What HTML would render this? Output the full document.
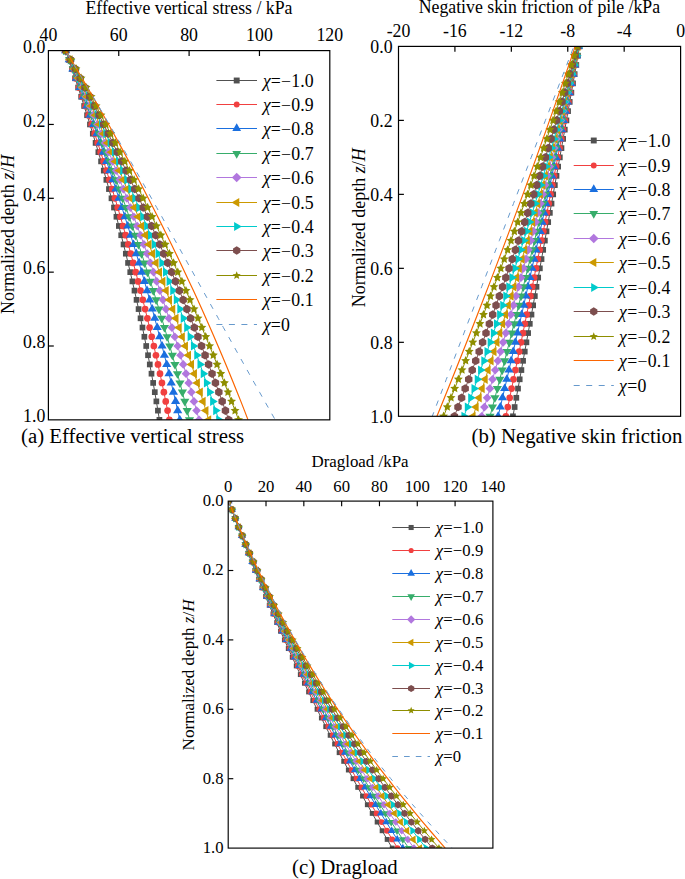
<!DOCTYPE html>
<html><head><meta charset="utf-8"><style>
html,body{margin:0;padding:0;background:#fff;width:685px;height:879px;overflow:hidden}
svg{display:block}
text{font-family:"Liberation Serif", serif;fill:#000}
</style></head><body>
<svg width="685" height="879" viewBox="0 0 685 879">
<clipPath id="ca"><rect x="48.4" y="50.6" width="281.40000000000003" height="369.25"/></clipPath>
<g clip-path="url(#ca)">
<path d="M65.64,50.6 L68.83,59.83 L71.98,69.06 L75.08,78.29 L78.14,87.53 L81.16,96.76 L84.13,105.99 L87.07,115.22 L89.95,124.45 L92.8,133.68 L95.6,142.91 L98.36,152.14 L101.07,161.38 L103.74,170.61 L106.37,179.84 L108.95,189.07 L111.49,198.3 L113.99,207.53 L116.44,216.76 L118.85,225.99 L121.21,235.22 L123.54,244.46 L125.82,253.69 L128.05,262.92 L130.24,272.15 L132.39,281.38 L134.5,290.61 L136.56,299.84 L138.58,309.08 L140.55,318.31 L142.49,327.54 L144.37,336.77 L146.22,346 L148.02,355.23 L149.78,364.46 L151.49,373.69 L153.16,382.93 L154.79,392.16 L156.37,401.39 L157.91,410.62 L159.41,419.85" fill="none" stroke="#515151" stroke-width="1.0"/>
<rect x="62.79" y="47.75" width="5.7" height="5.7" fill="#515151"/>
<rect x="65.98" y="56.98" width="5.7" height="5.7" fill="#515151"/>
<rect x="69.13" y="66.21" width="5.7" height="5.7" fill="#515151"/>
<rect x="72.23" y="75.44" width="5.7" height="5.7" fill="#515151"/>
<rect x="75.29" y="84.68" width="5.7" height="5.7" fill="#515151"/>
<rect x="78.31" y="93.91" width="5.7" height="5.7" fill="#515151"/>
<rect x="81.28" y="103.14" width="5.7" height="5.7" fill="#515151"/>
<rect x="84.22" y="112.37" width="5.7" height="5.7" fill="#515151"/>
<rect x="87.1" y="121.6" width="5.7" height="5.7" fill="#515151"/>
<rect x="89.95" y="130.83" width="5.7" height="5.7" fill="#515151"/>
<rect x="92.75" y="140.06" width="5.7" height="5.7" fill="#515151"/>
<rect x="95.51" y="149.29" width="5.7" height="5.7" fill="#515151"/>
<rect x="98.22" y="158.53" width="5.7" height="5.7" fill="#515151"/>
<rect x="100.89" y="167.76" width="5.7" height="5.7" fill="#515151"/>
<rect x="103.52" y="176.99" width="5.7" height="5.7" fill="#515151"/>
<rect x="106.1" y="186.22" width="5.7" height="5.7" fill="#515151"/>
<rect x="108.64" y="195.45" width="5.7" height="5.7" fill="#515151"/>
<rect x="111.14" y="204.68" width="5.7" height="5.7" fill="#515151"/>
<rect x="113.59" y="213.91" width="5.7" height="5.7" fill="#515151"/>
<rect x="116" y="223.14" width="5.7" height="5.7" fill="#515151"/>
<rect x="118.36" y="232.38" width="5.7" height="5.7" fill="#515151"/>
<rect x="120.69" y="241.61" width="5.7" height="5.7" fill="#515151"/>
<rect x="122.97" y="250.84" width="5.7" height="5.7" fill="#515151"/>
<rect x="125.2" y="260.07" width="5.7" height="5.7" fill="#515151"/>
<rect x="127.39" y="269.3" width="5.7" height="5.7" fill="#515151"/>
<rect x="129.54" y="278.53" width="5.7" height="5.7" fill="#515151"/>
<rect x="131.65" y="287.76" width="5.7" height="5.7" fill="#515151"/>
<rect x="133.71" y="296.99" width="5.7" height="5.7" fill="#515151"/>
<rect x="135.73" y="306.23" width="5.7" height="5.7" fill="#515151"/>
<rect x="137.7" y="315.46" width="5.7" height="5.7" fill="#515151"/>
<rect x="139.64" y="324.69" width="5.7" height="5.7" fill="#515151"/>
<rect x="141.52" y="333.92" width="5.7" height="5.7" fill="#515151"/>
<rect x="143.37" y="343.15" width="5.7" height="5.7" fill="#515151"/>
<rect x="145.17" y="352.38" width="5.7" height="5.7" fill="#515151"/>
<rect x="146.93" y="361.61" width="5.7" height="5.7" fill="#515151"/>
<rect x="148.64" y="370.84" width="5.7" height="5.7" fill="#515151"/>
<rect x="150.31" y="380.07" width="5.7" height="5.7" fill="#515151"/>
<rect x="151.94" y="389.31" width="5.7" height="5.7" fill="#515151"/>
<rect x="153.52" y="398.54" width="5.7" height="5.7" fill="#515151"/>
<rect x="155.06" y="407.77" width="5.7" height="5.7" fill="#515151"/>
<rect x="156.56" y="417" width="5.7" height="5.7" fill="#515151"/>
<path d="M65.64,50.6 L69.03,59.83 L72.37,69.06 L75.68,78.29 L78.95,87.53 L82.18,96.76 L85.36,105.99 L88.51,115.22 L91.61,124.45 L94.67,133.68 L97.7,142.91 L100.68,152.14 L103.62,161.38 L106.52,170.61 L109.38,179.84 L112.2,189.07 L114.97,198.3 L117.71,207.53 L120.41,216.76 L123.06,225.99 L125.67,235.22 L128.25,244.46 L130.78,253.69 L133.27,262.92 L135.72,272.15 L138.13,281.38 L140.5,290.61 L142.83,299.84 L145.11,309.08 L147.36,318.31 L149.57,327.54 L151.73,336.77 L153.85,346 L155.94,355.23 L157.98,364.46 L159.98,373.69 L161.94,382.93 L163.86,392.16 L165.74,401.39 L167.58,410.62 L169.37,419.85" fill="none" stroke="#F14040" stroke-width="1.0"/>
<circle cx="65.64" cy="50.6" r="3.35" fill="#F14040"/>
<circle cx="69.03" cy="59.83" r="3.35" fill="#F14040"/>
<circle cx="72.37" cy="69.06" r="3.35" fill="#F14040"/>
<circle cx="75.68" cy="78.29" r="3.35" fill="#F14040"/>
<circle cx="78.95" cy="87.53" r="3.35" fill="#F14040"/>
<circle cx="82.18" cy="96.76" r="3.35" fill="#F14040"/>
<circle cx="85.36" cy="105.99" r="3.35" fill="#F14040"/>
<circle cx="88.51" cy="115.22" r="3.35" fill="#F14040"/>
<circle cx="91.61" cy="124.45" r="3.35" fill="#F14040"/>
<circle cx="94.67" cy="133.68" r="3.35" fill="#F14040"/>
<circle cx="97.7" cy="142.91" r="3.35" fill="#F14040"/>
<circle cx="100.68" cy="152.14" r="3.35" fill="#F14040"/>
<circle cx="103.62" cy="161.38" r="3.35" fill="#F14040"/>
<circle cx="106.52" cy="170.61" r="3.35" fill="#F14040"/>
<circle cx="109.38" cy="179.84" r="3.35" fill="#F14040"/>
<circle cx="112.2" cy="189.07" r="3.35" fill="#F14040"/>
<circle cx="114.97" cy="198.3" r="3.35" fill="#F14040"/>
<circle cx="117.71" cy="207.53" r="3.35" fill="#F14040"/>
<circle cx="120.41" cy="216.76" r="3.35" fill="#F14040"/>
<circle cx="123.06" cy="225.99" r="3.35" fill="#F14040"/>
<circle cx="125.67" cy="235.22" r="3.35" fill="#F14040"/>
<circle cx="128.25" cy="244.46" r="3.35" fill="#F14040"/>
<circle cx="130.78" cy="253.69" r="3.35" fill="#F14040"/>
<circle cx="133.27" cy="262.92" r="3.35" fill="#F14040"/>
<circle cx="135.72" cy="272.15" r="3.35" fill="#F14040"/>
<circle cx="138.13" cy="281.38" r="3.35" fill="#F14040"/>
<circle cx="140.5" cy="290.61" r="3.35" fill="#F14040"/>
<circle cx="142.83" cy="299.84" r="3.35" fill="#F14040"/>
<circle cx="145.11" cy="309.08" r="3.35" fill="#F14040"/>
<circle cx="147.36" cy="318.31" r="3.35" fill="#F14040"/>
<circle cx="149.57" cy="327.54" r="3.35" fill="#F14040"/>
<circle cx="151.73" cy="336.77" r="3.35" fill="#F14040"/>
<circle cx="153.85" cy="346" r="3.35" fill="#F14040"/>
<circle cx="155.94" cy="355.23" r="3.35" fill="#F14040"/>
<circle cx="157.98" cy="364.46" r="3.35" fill="#F14040"/>
<circle cx="159.98" cy="373.69" r="3.35" fill="#F14040"/>
<circle cx="161.94" cy="382.93" r="3.35" fill="#F14040"/>
<circle cx="163.86" cy="392.16" r="3.35" fill="#F14040"/>
<circle cx="165.74" cy="401.39" r="3.35" fill="#F14040"/>
<circle cx="167.58" cy="410.62" r="3.35" fill="#F14040"/>
<circle cx="169.37" cy="419.85" r="3.35" fill="#F14040"/>
<path d="M65.64,50.6 L69.27,59.83 L72.86,69.06 L76.41,78.29 L79.92,87.53 L83.39,96.76 L86.82,105.99 L90.21,115.22 L93.56,124.45 L96.87,133.68 L100.15,142.91 L103.38,152.14 L106.57,161.38 L109.72,170.61 L112.83,179.84 L115.91,189.07 L118.94,198.3 L121.93,207.53 L124.89,216.76 L127.8,225.99 L130.67,235.22 L133.51,244.46 L136.3,253.69 L139.05,262.92 L141.77,272.15 L144.44,281.38 L147.08,290.61 L149.67,299.84 L152.23,309.08 L154.74,318.31 L157.22,327.54 L159.65,336.77 L162.05,346 L164.4,355.23 L166.72,364.46 L169,373.69 L171.23,382.93 L173.43,392.16 L175.59,401.39 L177.7,410.62 L179.78,419.85" fill="none" stroke="#1A6FDF" stroke-width="1.0"/>
<polygon points="65.64,45.53 70.24,53.13 61.04,53.13" fill="#1A6FDF"/>
<polygon points="69.27,54.76 73.87,62.36 64.67,62.36" fill="#1A6FDF"/>
<polygon points="72.86,64 77.46,71.6 68.26,71.6" fill="#1A6FDF"/>
<polygon points="76.41,73.23 81.01,80.83 71.81,80.83" fill="#1A6FDF"/>
<polygon points="79.92,82.46 84.52,90.06 75.32,90.06" fill="#1A6FDF"/>
<polygon points="83.39,91.69 87.99,99.29 78.79,99.29" fill="#1A6FDF"/>
<polygon points="86.82,100.92 91.42,108.52 82.22,108.52" fill="#1A6FDF"/>
<polygon points="90.21,110.15 94.81,117.75 85.61,117.75" fill="#1A6FDF"/>
<polygon points="93.56,119.38 98.16,126.98 88.96,126.98" fill="#1A6FDF"/>
<polygon points="96.87,128.61 101.47,136.21 92.27,136.21" fill="#1A6FDF"/>
<polygon points="100.15,137.85 104.75,145.45 95.55,145.45" fill="#1A6FDF"/>
<polygon points="103.38,147.08 107.98,154.68 98.78,154.68" fill="#1A6FDF"/>
<polygon points="106.57,156.31 111.17,163.91 101.97,163.91" fill="#1A6FDF"/>
<polygon points="109.72,165.54 114.32,173.14 105.12,173.14" fill="#1A6FDF"/>
<polygon points="112.83,174.77 117.43,182.37 108.23,182.37" fill="#1A6FDF"/>
<polygon points="115.91,184 120.51,191.6 111.31,191.6" fill="#1A6FDF"/>
<polygon points="118.94,193.23 123.54,200.83 114.34,200.83" fill="#1A6FDF"/>
<polygon points="121.93,202.46 126.53,210.06 117.33,210.06" fill="#1A6FDF"/>
<polygon points="124.89,211.7 129.49,219.3 120.29,219.3" fill="#1A6FDF"/>
<polygon points="127.8,220.93 132.4,228.53 123.2,228.53" fill="#1A6FDF"/>
<polygon points="130.67,230.16 135.27,237.76 126.07,237.76" fill="#1A6FDF"/>
<polygon points="133.51,239.39 138.11,246.99 128.91,246.99" fill="#1A6FDF"/>
<polygon points="136.3,248.62 140.9,256.22 131.7,256.22" fill="#1A6FDF"/>
<polygon points="139.05,257.85 143.65,265.45 134.45,265.45" fill="#1A6FDF"/>
<polygon points="141.77,267.08 146.37,274.68 137.17,274.68" fill="#1A6FDF"/>
<polygon points="144.44,276.31 149.04,283.91 139.84,283.91" fill="#1A6FDF"/>
<polygon points="147.08,285.55 151.68,293.15 142.48,293.15" fill="#1A6FDF"/>
<polygon points="149.67,294.78 154.27,302.38 145.07,302.38" fill="#1A6FDF"/>
<polygon points="152.23,304.01 156.83,311.61 147.63,311.61" fill="#1A6FDF"/>
<polygon points="154.74,313.24 159.34,320.84 150.14,320.84" fill="#1A6FDF"/>
<polygon points="157.22,322.47 161.82,330.07 152.62,330.07" fill="#1A6FDF"/>
<polygon points="159.65,331.7 164.25,339.3 155.05,339.3" fill="#1A6FDF"/>
<polygon points="162.05,340.93 166.65,348.53 157.45,348.53" fill="#1A6FDF"/>
<polygon points="164.4,350.16 169,357.76 159.8,357.76" fill="#1A6FDF"/>
<polygon points="166.72,359.4 171.32,367 162.12,367" fill="#1A6FDF"/>
<polygon points="169,368.63 173.6,376.23 164.4,376.23" fill="#1A6FDF"/>
<polygon points="171.23,377.86 175.83,385.46 166.63,385.46" fill="#1A6FDF"/>
<polygon points="173.43,387.09 178.03,394.69 168.83,394.69" fill="#1A6FDF"/>
<polygon points="175.59,396.32 180.19,403.92 170.99,403.92" fill="#1A6FDF"/>
<polygon points="177.7,405.55 182.3,413.15 173.1,413.15" fill="#1A6FDF"/>
<polygon points="179.78,414.78 184.38,422.38 175.18,422.38" fill="#1A6FDF"/>
<path d="M65.64,50.6 L69.5,59.83 L73.33,69.06 L77.11,78.29 L80.86,87.53 L84.56,96.76 L88.23,105.99 L91.86,115.22 L95.45,124.45 L99,133.68 L102.51,142.91 L105.98,152.14 L109.41,161.38 L112.8,170.61 L116.15,179.84 L119.47,189.07 L122.74,198.3 L125.98,207.53 L129.17,216.76 L132.33,225.99 L135.44,235.22 L138.52,244.46 L141.56,253.69 L144.56,262.92 L147.51,272.15 L150.43,281.38 L153.31,290.61 L156.16,299.84 L158.96,309.08 L161.72,318.31 L164.44,327.54 L167.12,336.77 L169.77,346 L172.37,355.23 L174.94,364.46 L177.46,373.69 L179.95,382.93 L182.4,392.16 L184.8,401.39 L187.17,410.62 L189.5,419.85" fill="none" stroke="#37AD6B" stroke-width="1.0"/>
<polygon points="65.64,55.67 70.24,48.07 61.04,48.07" fill="#37AD6B"/>
<polygon points="69.5,64.9 74.1,57.3 64.9,57.3" fill="#37AD6B"/>
<polygon points="73.33,74.13 77.93,66.53 68.73,66.53" fill="#37AD6B"/>
<polygon points="77.11,83.36 81.71,75.76 72.51,75.76" fill="#37AD6B"/>
<polygon points="80.86,92.59 85.46,84.99 76.26,84.99" fill="#37AD6B"/>
<polygon points="84.56,101.82 89.16,94.22 79.96,94.22" fill="#37AD6B"/>
<polygon points="88.23,111.05 92.83,103.45 83.63,103.45" fill="#37AD6B"/>
<polygon points="91.86,120.29 96.46,112.69 87.26,112.69" fill="#37AD6B"/>
<polygon points="95.45,129.52 100.05,121.92 90.85,121.92" fill="#37AD6B"/>
<polygon points="99,138.75 103.6,131.15 94.4,131.15" fill="#37AD6B"/>
<polygon points="102.51,147.98 107.11,140.38 97.91,140.38" fill="#37AD6B"/>
<polygon points="105.98,157.21 110.58,149.61 101.38,149.61" fill="#37AD6B"/>
<polygon points="109.41,166.44 114.01,158.84 104.81,158.84" fill="#37AD6B"/>
<polygon points="112.8,175.67 117.4,168.07 108.2,168.07" fill="#37AD6B"/>
<polygon points="116.15,184.9 120.75,177.3 111.55,177.3" fill="#37AD6B"/>
<polygon points="119.47,194.14 124.07,186.54 114.87,186.54" fill="#37AD6B"/>
<polygon points="122.74,203.37 127.34,195.77 118.14,195.77" fill="#37AD6B"/>
<polygon points="125.98,212.6 130.58,205 121.38,205" fill="#37AD6B"/>
<polygon points="129.17,221.83 133.77,214.23 124.57,214.23" fill="#37AD6B"/>
<polygon points="132.33,231.06 136.93,223.46 127.73,223.46" fill="#37AD6B"/>
<polygon points="135.44,240.29 140.04,232.69 130.84,232.69" fill="#37AD6B"/>
<polygon points="138.52,249.52 143.12,241.92 133.92,241.92" fill="#37AD6B"/>
<polygon points="141.56,258.75 146.16,251.15 136.96,251.15" fill="#37AD6B"/>
<polygon points="144.56,267.99 149.16,260.39 139.96,260.39" fill="#37AD6B"/>
<polygon points="147.51,277.22 152.11,269.62 142.91,269.62" fill="#37AD6B"/>
<polygon points="150.43,286.45 155.03,278.85 145.83,278.85" fill="#37AD6B"/>
<polygon points="153.31,295.68 157.91,288.08 148.71,288.08" fill="#37AD6B"/>
<polygon points="156.16,304.91 160.76,297.31 151.56,297.31" fill="#37AD6B"/>
<polygon points="158.96,314.14 163.56,306.54 154.36,306.54" fill="#37AD6B"/>
<polygon points="161.72,323.37 166.32,315.77 157.12,315.77" fill="#37AD6B"/>
<polygon points="164.44,332.6 169.04,325 159.84,325" fill="#37AD6B"/>
<polygon points="167.12,341.84 171.72,334.24 162.52,334.24" fill="#37AD6B"/>
<polygon points="169.77,351.07 174.37,343.47 165.17,343.47" fill="#37AD6B"/>
<polygon points="172.37,360.3 176.97,352.7 167.77,352.7" fill="#37AD6B"/>
<polygon points="174.94,369.53 179.54,361.93 170.34,361.93" fill="#37AD6B"/>
<polygon points="177.46,378.76 182.06,371.16 172.86,371.16" fill="#37AD6B"/>
<polygon points="179.95,387.99 184.55,380.39 175.35,380.39" fill="#37AD6B"/>
<polygon points="182.4,397.22 187,389.62 177.8,389.62" fill="#37AD6B"/>
<polygon points="184.8,406.45 189.4,398.85 180.2,398.85" fill="#37AD6B"/>
<polygon points="187.17,415.69 191.77,408.09 182.57,408.09" fill="#37AD6B"/>
<polygon points="189.5,424.92 194.1,417.32 184.9,417.32" fill="#37AD6B"/>
<path d="M65.64,50.6 L69.77,59.83 L73.87,69.06 L77.93,78.29 L81.94,87.53 L85.92,96.76 L89.85,105.99 L93.74,115.22 L97.59,124.45 L101.4,133.68 L105.17,142.91 L108.89,152.14 L112.58,161.38 L116.22,170.61 L119.83,179.84 L123.39,189.07 L126.91,198.3 L130.39,207.53 L133.83,216.76 L137.23,225.99 L140.59,235.22 L143.9,244.46 L147.18,253.69 L150.41,262.92 L153.61,272.15 L156.76,281.38 L159.87,290.61 L162.94,299.84 L165.97,309.08 L168.95,318.31 L171.9,327.54 L174.81,336.77 L177.67,346 L180.49,355.23 L183.27,364.46 L186.01,373.69 L188.71,382.93 L191.37,392.16 L193.99,401.39 L196.57,410.62 L199.1,419.85" fill="none" stroke="#B177DE" stroke-width="1.0"/>
<polygon points="65.64,46.25 69.99,50.6 65.64,54.95 61.29,50.6" fill="#B177DE"/>
<polygon points="69.77,55.48 74.12,59.83 69.77,64.18 65.42,59.83" fill="#B177DE"/>
<polygon points="73.87,64.71 78.22,69.06 73.87,73.41 69.52,69.06" fill="#B177DE"/>
<polygon points="77.93,73.94 82.28,78.29 77.93,82.64 73.58,78.29" fill="#B177DE"/>
<polygon points="81.94,83.18 86.29,87.53 81.94,91.88 77.59,87.53" fill="#B177DE"/>
<polygon points="85.92,92.41 90.27,96.76 85.92,101.11 81.57,96.76" fill="#B177DE"/>
<polygon points="89.85,101.64 94.2,105.99 89.85,110.34 85.5,105.99" fill="#B177DE"/>
<polygon points="93.74,110.87 98.09,115.22 93.74,119.57 89.39,115.22" fill="#B177DE"/>
<polygon points="97.59,120.1 101.94,124.45 97.59,128.8 93.24,124.45" fill="#B177DE"/>
<polygon points="101.4,129.33 105.75,133.68 101.4,138.03 97.05,133.68" fill="#B177DE"/>
<polygon points="105.17,138.56 109.52,142.91 105.17,147.26 100.82,142.91" fill="#B177DE"/>
<polygon points="108.89,147.79 113.24,152.14 108.89,156.49 104.54,152.14" fill="#B177DE"/>
<polygon points="112.58,157.03 116.93,161.38 112.58,165.73 108.23,161.38" fill="#B177DE"/>
<polygon points="116.22,166.26 120.57,170.61 116.22,174.96 111.87,170.61" fill="#B177DE"/>
<polygon points="119.83,175.49 124.18,179.84 119.83,184.19 115.48,179.84" fill="#B177DE"/>
<polygon points="123.39,184.72 127.74,189.07 123.39,193.42 119.04,189.07" fill="#B177DE"/>
<polygon points="126.91,193.95 131.26,198.3 126.91,202.65 122.56,198.3" fill="#B177DE"/>
<polygon points="130.39,203.18 134.74,207.53 130.39,211.88 126.04,207.53" fill="#B177DE"/>
<polygon points="133.83,212.41 138.18,216.76 133.83,221.11 129.48,216.76" fill="#B177DE"/>
<polygon points="137.23,221.64 141.58,225.99 137.23,230.34 132.88,225.99" fill="#B177DE"/>
<polygon points="140.59,230.88 144.94,235.22 140.59,239.57 136.24,235.22" fill="#B177DE"/>
<polygon points="143.9,240.11 148.25,244.46 143.9,248.81 139.55,244.46" fill="#B177DE"/>
<polygon points="147.18,249.34 151.53,253.69 147.18,258.04 142.83,253.69" fill="#B177DE"/>
<polygon points="150.41,258.57 154.76,262.92 150.41,267.27 146.06,262.92" fill="#B177DE"/>
<polygon points="153.61,267.8 157.96,272.15 153.61,276.5 149.26,272.15" fill="#B177DE"/>
<polygon points="156.76,277.03 161.11,281.38 156.76,285.73 152.41,281.38" fill="#B177DE"/>
<polygon points="159.87,286.26 164.22,290.61 159.87,294.96 155.52,290.61" fill="#B177DE"/>
<polygon points="162.94,295.49 167.29,299.84 162.94,304.19 158.59,299.84" fill="#B177DE"/>
<polygon points="165.97,304.73 170.32,309.08 165.97,313.43 161.62,309.08" fill="#B177DE"/>
<polygon points="168.95,313.96 173.3,318.31 168.95,322.66 164.6,318.31" fill="#B177DE"/>
<polygon points="171.9,323.19 176.25,327.54 171.9,331.89 167.55,327.54" fill="#B177DE"/>
<polygon points="174.81,332.42 179.16,336.77 174.81,341.12 170.46,336.77" fill="#B177DE"/>
<polygon points="177.67,341.65 182.02,346 177.67,350.35 173.32,346" fill="#B177DE"/>
<polygon points="180.49,350.88 184.84,355.23 180.49,359.58 176.14,355.23" fill="#B177DE"/>
<polygon points="183.27,360.11 187.62,364.46 183.27,368.81 178.92,364.46" fill="#B177DE"/>
<polygon points="186.01,369.34 190.36,373.69 186.01,378.04 181.66,373.69" fill="#B177DE"/>
<polygon points="188.71,378.57 193.06,382.93 188.71,387.28 184.36,382.93" fill="#B177DE"/>
<polygon points="191.37,387.81 195.72,392.16 191.37,396.51 187.02,392.16" fill="#B177DE"/>
<polygon points="193.99,397.04 198.34,401.39 193.99,405.74 189.64,401.39" fill="#B177DE"/>
<polygon points="196.57,406.27 200.92,410.62 196.57,414.97 192.22,410.62" fill="#B177DE"/>
<polygon points="199.1,415.5 203.45,419.85 199.1,424.2 194.75,419.85" fill="#B177DE"/>
<path d="M65.64,50.6 L70.02,59.83 L74.37,69.06 L78.67,78.29 L82.93,87.53 L87.15,96.76 L91.33,105.99 L95.46,115.22 L99.56,124.45 L103.61,133.68 L107.63,142.91 L111.6,152.14 L115.53,161.38 L119.41,170.61 L123.26,179.84 L127.06,189.07 L130.83,198.3 L134.55,207.53 L138.23,216.76 L141.87,225.99 L145.46,235.22 L149.02,244.46 L152.53,253.69 L156,262.92 L159.43,272.15 L162.82,281.38 L166.17,290.61 L169.48,299.84 L172.74,309.08 L175.97,318.31 L179.15,327.54 L182.29,336.77 L185.39,346 L188.44,355.23 L191.46,364.46 L194.43,373.69 L197.36,382.93 L200.25,392.16 L203.1,401.39 L205.91,410.62 L208.68,419.85" fill="none" stroke="#CC9900" stroke-width="1.0"/>
<polygon points="60.57,50.6 68.17,46 68.17,55.2" fill="#CC9900"/>
<polygon points="64.95,59.83 72.55,55.23 72.55,64.43" fill="#CC9900"/>
<polygon points="69.3,69.06 76.9,64.46 76.9,73.66" fill="#CC9900"/>
<polygon points="73.6,78.29 81.2,73.69 81.2,82.89" fill="#CC9900"/>
<polygon points="77.86,87.53 85.46,82.93 85.46,92.12" fill="#CC9900"/>
<polygon points="82.08,96.76 89.68,92.16 89.68,101.36" fill="#CC9900"/>
<polygon points="86.26,105.99 93.86,101.39 93.86,110.59" fill="#CC9900"/>
<polygon points="90.4,115.22 98,110.62 98,119.82" fill="#CC9900"/>
<polygon points="94.49,124.45 102.09,119.85 102.09,129.05" fill="#CC9900"/>
<polygon points="98.55,133.68 106.15,129.08 106.15,138.28" fill="#CC9900"/>
<polygon points="102.56,142.91 110.16,138.31 110.16,147.51" fill="#CC9900"/>
<polygon points="106.53,152.14 114.13,147.54 114.13,156.74" fill="#CC9900"/>
<polygon points="110.46,161.38 118.06,156.78 118.06,165.98" fill="#CC9900"/>
<polygon points="114.35,170.61 121.95,166.01 121.95,175.21" fill="#CC9900"/>
<polygon points="118.19,179.84 125.79,175.24 125.79,184.44" fill="#CC9900"/>
<polygon points="122,189.07 129.6,184.47 129.6,193.67" fill="#CC9900"/>
<polygon points="125.76,198.3 133.36,193.7 133.36,202.9" fill="#CC9900"/>
<polygon points="129.48,207.53 137.08,202.93 137.08,212.13" fill="#CC9900"/>
<polygon points="133.16,216.76 140.76,212.16 140.76,221.36" fill="#CC9900"/>
<polygon points="136.8,225.99 144.4,221.39 144.4,230.59" fill="#CC9900"/>
<polygon points="140.4,235.22 148,230.62 148,239.82" fill="#CC9900"/>
<polygon points="143.95,244.46 151.55,239.86 151.55,249.06" fill="#CC9900"/>
<polygon points="147.46,253.69 155.06,249.09 155.06,258.29" fill="#CC9900"/>
<polygon points="150.94,262.92 158.54,258.32 158.54,267.52" fill="#CC9900"/>
<polygon points="154.37,272.15 161.97,267.55 161.97,276.75" fill="#CC9900"/>
<polygon points="157.76,281.38 165.36,276.78 165.36,285.98" fill="#CC9900"/>
<polygon points="161.1,290.61 168.7,286.01 168.7,295.21" fill="#CC9900"/>
<polygon points="164.41,299.84 172.01,295.24 172.01,304.44" fill="#CC9900"/>
<polygon points="167.68,309.08 175.28,304.48 175.28,313.68" fill="#CC9900"/>
<polygon points="170.9,318.31 178.5,313.71 178.5,322.91" fill="#CC9900"/>
<polygon points="174.08,327.54 181.68,322.94 181.68,332.14" fill="#CC9900"/>
<polygon points="177.22,336.77 184.82,332.17 184.82,341.37" fill="#CC9900"/>
<polygon points="180.32,346 187.92,341.4 187.92,350.6" fill="#CC9900"/>
<polygon points="183.38,355.23 190.98,350.63 190.98,359.83" fill="#CC9900"/>
<polygon points="186.39,364.46 193.99,359.86 193.99,369.06" fill="#CC9900"/>
<polygon points="189.36,373.69 196.96,369.09 196.96,378.29" fill="#CC9900"/>
<polygon points="192.3,382.93 199.9,378.32 199.9,387.53" fill="#CC9900"/>
<polygon points="195.19,392.16 202.79,387.56 202.79,396.76" fill="#CC9900"/>
<polygon points="198.04,401.39 205.64,396.79 205.64,405.99" fill="#CC9900"/>
<polygon points="200.84,410.62 208.44,406.02 208.44,415.22" fill="#CC9900"/>
<polygon points="203.61,419.85 211.21,415.25 211.21,424.45" fill="#CC9900"/>
<path d="M65.64,50.6 L70.28,59.83 L74.88,69.06 L79.44,78.29 L83.96,87.53 L88.43,96.76 L92.87,105.99 L97.26,115.22 L101.61,124.45 L105.92,133.68 L110.19,142.91 L114.41,152.14 L118.59,161.38 L122.74,170.61 L126.83,179.84 L130.89,189.07 L134.91,198.3 L138.88,207.53 L142.81,216.76 L146.71,225.99 L150.55,235.22 L154.36,244.46 L158.13,253.69 L161.85,262.92 L165.53,272.15 L169.17,281.38 L172.77,290.61 L176.32,299.84 L179.84,309.08 L183.31,318.31 L186.74,327.54 L190.13,336.77 L193.48,346 L196.78,355.23 L200.05,364.46 L203.27,373.69 L206.45,382.93 L209.58,392.16 L212.68,401.39 L215.73,410.62 L218.75,419.85" fill="none" stroke="#00CBCC" stroke-width="1.0"/>
<polygon points="70.7,50.6 63.1,46 63.1,55.2" fill="#00CBCC"/>
<polygon points="75.35,59.83 67.75,55.23 67.75,64.43" fill="#00CBCC"/>
<polygon points="79.95,69.06 72.35,64.46 72.35,73.66" fill="#00CBCC"/>
<polygon points="84.51,78.29 76.91,73.69 76.91,82.89" fill="#00CBCC"/>
<polygon points="89.02,87.53 81.42,82.93 81.42,92.12" fill="#00CBCC"/>
<polygon points="93.5,96.76 85.9,92.16 85.9,101.36" fill="#00CBCC"/>
<polygon points="97.93,105.99 90.33,101.39 90.33,110.59" fill="#00CBCC"/>
<polygon points="102.33,115.22 94.73,110.62 94.73,119.82" fill="#00CBCC"/>
<polygon points="106.68,124.45 99.08,119.85 99.08,129.05" fill="#00CBCC"/>
<polygon points="110.99,133.68 103.39,129.08 103.39,138.28" fill="#00CBCC"/>
<polygon points="115.25,142.91 107.65,138.31 107.65,147.51" fill="#00CBCC"/>
<polygon points="119.48,152.14 111.88,147.54 111.88,156.74" fill="#00CBCC"/>
<polygon points="123.66,161.38 116.06,156.78 116.06,165.98" fill="#00CBCC"/>
<polygon points="127.8,170.61 120.2,166.01 120.2,175.21" fill="#00CBCC"/>
<polygon points="131.9,179.84 124.3,175.24 124.3,184.44" fill="#00CBCC"/>
<polygon points="135.96,189.07 128.36,184.47 128.36,193.67" fill="#00CBCC"/>
<polygon points="139.97,198.3 132.37,193.7 132.37,202.9" fill="#00CBCC"/>
<polygon points="143.95,207.53 136.35,202.93 136.35,212.13" fill="#00CBCC"/>
<polygon points="147.88,216.76 140.28,212.16 140.28,221.36" fill="#00CBCC"/>
<polygon points="151.77,225.99 144.17,221.39 144.17,230.59" fill="#00CBCC"/>
<polygon points="155.62,235.22 148.02,230.62 148.02,239.82" fill="#00CBCC"/>
<polygon points="159.43,244.46 151.83,239.86 151.83,249.06" fill="#00CBCC"/>
<polygon points="163.19,253.69 155.59,249.09 155.59,258.29" fill="#00CBCC"/>
<polygon points="166.92,262.92 159.32,258.32 159.32,267.52" fill="#00CBCC"/>
<polygon points="170.6,272.15 163,267.55 163,276.75" fill="#00CBCC"/>
<polygon points="174.24,281.38 166.64,276.78 166.64,285.98" fill="#00CBCC"/>
<polygon points="177.83,290.61 170.23,286.01 170.23,295.21" fill="#00CBCC"/>
<polygon points="181.39,299.84 173.79,295.24 173.79,304.44" fill="#00CBCC"/>
<polygon points="184.9,309.08 177.3,304.48 177.3,313.68" fill="#00CBCC"/>
<polygon points="188.38,318.31 180.78,313.71 180.78,322.91" fill="#00CBCC"/>
<polygon points="191.81,327.54 184.21,322.94 184.21,332.14" fill="#00CBCC"/>
<polygon points="195.2,336.77 187.6,332.17 187.6,341.37" fill="#00CBCC"/>
<polygon points="198.54,346 190.94,341.4 190.94,350.6" fill="#00CBCC"/>
<polygon points="201.85,355.23 194.25,350.63 194.25,359.83" fill="#00CBCC"/>
<polygon points="205.11,364.46 197.51,359.86 197.51,369.06" fill="#00CBCC"/>
<polygon points="208.33,373.69 200.73,369.09 200.73,378.29" fill="#00CBCC"/>
<polygon points="211.51,382.93 203.91,378.32 203.91,387.53" fill="#00CBCC"/>
<polygon points="214.65,392.16 207.05,387.56 207.05,396.76" fill="#00CBCC"/>
<polygon points="217.75,401.39 210.15,396.79 210.15,405.99" fill="#00CBCC"/>
<polygon points="220.8,410.62 213.2,406.02 213.2,415.22" fill="#00CBCC"/>
<polygon points="223.81,419.85 216.21,415.25 216.21,424.45" fill="#00CBCC"/>
<path d="M65.64,50.6 L70.54,59.83 L75.41,69.06 L80.23,78.29 L85.01,87.53 L89.75,96.76 L94.45,105.99 L99.1,115.22 L103.71,124.45 L108.28,133.68 L112.8,142.91 L117.28,152.14 L121.72,161.38 L126.12,170.61 L130.47,179.84 L134.78,189.07 L139.05,198.3 L143.28,207.53 L147.46,216.76 L151.6,225.99 L155.7,235.22 L159.75,244.46 L163.76,253.69 L167.73,262.92 L171.66,272.15 L175.55,281.38 L179.39,290.61 L183.19,299.84 L186.94,309.08 L190.66,318.31 L194.33,327.54 L197.96,336.77 L201.54,346 L205.09,355.23 L208.59,364.46 L212.04,373.69 L215.46,382.93 L218.83,392.16 L222.16,401.39 L225.45,410.62 L228.69,419.85" fill="none" stroke="#7D4E4E" stroke-width="1.0"/>
<polygon points="65.64,46.3 69.36,48.45 69.36,52.75 65.64,54.9 61.91,52.75 61.91,48.45" fill="#7D4E4E"/>
<polygon points="70.54,55.53 74.27,57.68 74.27,61.98 70.54,64.13 66.82,61.98 66.82,57.68" fill="#7D4E4E"/>
<polygon points="75.41,64.76 79.13,66.91 79.13,71.21 75.41,73.36 71.69,71.21 71.69,66.91" fill="#7D4E4E"/>
<polygon points="80.23,73.99 83.96,76.14 83.96,80.44 80.23,82.59 76.51,80.44 76.51,76.14" fill="#7D4E4E"/>
<polygon points="85.01,83.23 88.74,85.38 88.74,89.68 85.01,91.83 81.29,89.68 81.29,85.38" fill="#7D4E4E"/>
<polygon points="89.75,92.46 93.47,94.61 93.47,98.91 89.75,101.06 86.03,98.91 86.03,94.61" fill="#7D4E4E"/>
<polygon points="94.45,101.69 98.17,103.84 98.17,108.14 94.45,110.29 90.72,108.14 90.72,103.84" fill="#7D4E4E"/>
<polygon points="99.1,110.92 102.82,113.07 102.82,117.37 99.1,119.52 95.37,117.37 95.37,113.07" fill="#7D4E4E"/>
<polygon points="103.71,120.15 107.43,122.3 107.43,126.6 103.71,128.75 99.98,126.6 99.98,122.3" fill="#7D4E4E"/>
<polygon points="108.28,129.38 112,131.53 112,135.83 108.28,137.98 104.55,135.83 104.55,131.53" fill="#7D4E4E"/>
<polygon points="112.8,138.61 116.52,140.76 116.52,145.06 112.8,147.21 109.08,145.06 109.08,140.76" fill="#7D4E4E"/>
<polygon points="117.28,147.84 121.01,149.99 121.01,154.29 117.28,156.44 113.56,154.29 113.56,149.99" fill="#7D4E4E"/>
<polygon points="121.72,157.08 125.44,159.23 125.44,163.53 121.72,165.68 118,163.53 118,159.23" fill="#7D4E4E"/>
<polygon points="126.12,166.31 129.84,168.46 129.84,172.76 126.12,174.91 122.39,172.76 122.39,168.46" fill="#7D4E4E"/>
<polygon points="130.47,175.54 134.19,177.69 134.19,181.99 130.47,184.14 126.75,181.99 126.75,177.69" fill="#7D4E4E"/>
<polygon points="134.78,184.77 138.51,186.92 138.51,191.22 134.78,193.37 131.06,191.22 131.06,186.92" fill="#7D4E4E"/>
<polygon points="139.05,194 142.77,196.15 142.77,200.45 139.05,202.6 135.33,200.45 135.33,196.15" fill="#7D4E4E"/>
<polygon points="143.28,203.23 147,205.38 147,209.68 143.28,211.83 139.55,209.68 139.55,205.38" fill="#7D4E4E"/>
<polygon points="147.46,212.46 151.18,214.61 151.18,218.91 147.46,221.06 143.74,218.91 143.74,214.61" fill="#7D4E4E"/>
<polygon points="151.6,221.69 155.32,223.84 155.32,228.14 151.6,230.29 147.88,228.14 147.88,223.84" fill="#7D4E4E"/>
<polygon points="155.7,230.92 159.42,233.07 159.42,237.38 155.7,239.53 151.97,237.38 151.97,233.07" fill="#7D4E4E"/>
<polygon points="159.75,240.16 163.48,242.31 163.48,246.61 159.75,248.76 156.03,246.61 156.03,242.31" fill="#7D4E4E"/>
<polygon points="163.76,249.39 167.49,251.54 167.49,255.84 163.76,257.99 160.04,255.84 160.04,251.54" fill="#7D4E4E"/>
<polygon points="167.73,258.62 171.46,260.77 171.46,265.07 167.73,267.22 164.01,265.07 164.01,260.77" fill="#7D4E4E"/>
<polygon points="171.66,267.85 175.39,270 175.39,274.3 171.66,276.45 167.94,274.3 167.94,270" fill="#7D4E4E"/>
<polygon points="175.55,277.08 179.27,279.23 179.27,283.53 175.55,285.68 171.82,283.53 171.82,279.23" fill="#7D4E4E"/>
<polygon points="179.39,286.31 183.11,288.46 183.11,292.76 179.39,294.91 175.66,292.76 175.66,288.46" fill="#7D4E4E"/>
<polygon points="183.19,295.54 186.91,297.69 186.91,301.99 183.19,304.14 179.46,301.99 179.46,297.69" fill="#7D4E4E"/>
<polygon points="186.94,304.78 190.67,306.93 190.67,311.23 186.94,313.38 183.22,311.23 183.22,306.93" fill="#7D4E4E"/>
<polygon points="190.66,314.01 194.38,316.16 194.38,320.46 190.66,322.61 186.93,320.46 186.93,316.16" fill="#7D4E4E"/>
<polygon points="194.33,323.24 198.05,325.39 198.05,329.69 194.33,331.84 190.6,329.69 190.6,325.39" fill="#7D4E4E"/>
<polygon points="197.96,332.47 201.68,334.62 201.68,338.92 197.96,341.07 194.23,338.92 194.23,334.62" fill="#7D4E4E"/>
<polygon points="201.54,341.7 205.27,343.85 205.27,348.15 201.54,350.3 197.82,348.15 197.82,343.85" fill="#7D4E4E"/>
<polygon points="205.09,350.93 208.81,353.08 208.81,357.38 205.09,359.53 201.36,357.38 201.36,353.08" fill="#7D4E4E"/>
<polygon points="208.59,360.16 212.31,362.31 212.31,366.61 208.59,368.76 204.86,366.61 204.86,362.31" fill="#7D4E4E"/>
<polygon points="212.04,369.39 215.77,371.54 215.77,375.84 212.04,377.99 208.32,375.84 208.32,371.54" fill="#7D4E4E"/>
<polygon points="215.46,378.62 219.18,380.78 219.18,385.07 215.46,387.23 211.74,385.07 211.74,380.78" fill="#7D4E4E"/>
<polygon points="218.83,387.86 222.56,390.01 222.56,394.31 218.83,396.46 215.11,394.31 215.11,390.01" fill="#7D4E4E"/>
<polygon points="222.16,397.09 225.89,399.24 225.89,403.54 222.16,405.69 218.44,403.54 218.44,399.24" fill="#7D4E4E"/>
<polygon points="225.45,406.32 229.17,408.47 229.17,412.77 225.45,414.92 221.73,412.77 221.73,408.47" fill="#7D4E4E"/>
<polygon points="228.69,415.55 232.42,417.7 232.42,422 228.69,424.15 224.97,422 224.97,417.7" fill="#7D4E4E"/>
<path d="M65.64,50.6 L70.81,59.83 L75.94,69.06 L81.03,78.29 L86.07,87.53 L91.07,96.76 L96.03,105.99 L100.94,115.22 L105.81,124.45 L110.63,133.68 L115.42,142.91 L120.15,152.14 L124.85,161.38 L129.5,170.61 L134.11,179.84 L138.67,189.07 L143.19,198.3 L147.66,207.53 L152.1,216.76 L156.48,225.99 L160.83,235.22 L165.13,244.46 L169.39,253.69 L173.6,262.92 L177.77,272.15 L181.9,281.38 L185.98,290.61 L190.02,299.84 L194.01,309.08 L197.96,318.31 L201.87,327.54 L205.74,336.77 L209.56,346 L213.33,355.23 L217.07,364.46 L220.76,373.69 L224.4,382.93 L228,392.16 L231.56,401.39 L235.08,410.62 L238.55,419.85" fill="none" stroke="#8E8E00" stroke-width="1.0"/>
<polygon points="65.64,45.9 66.99,48.74 70.11,49.15 67.82,51.31 68.4,54.4 65.64,52.9 62.87,54.4 63.45,51.31 61.17,49.15 64.28,48.74" fill="#8E8E00"/>
<polygon points="70.81,55.13 72.16,57.97 75.28,58.38 73,60.54 73.57,63.63 70.81,62.13 68.05,63.63 68.62,60.54 66.34,58.38 69.46,57.97" fill="#8E8E00"/>
<polygon points="75.94,64.36 77.29,67.2 80.41,67.61 78.13,69.77 78.7,72.86 75.94,71.36 73.18,72.86 73.75,69.77 71.47,67.61 74.59,67.2" fill="#8E8E00"/>
<polygon points="81.03,73.59 82.38,76.43 85.5,76.84 83.22,79 83.79,82.1 81.03,80.59 78.27,82.1 78.84,79 76.56,76.84 79.68,76.43" fill="#8E8E00"/>
<polygon points="86.07,82.83 87.42,85.66 90.54,86.07 88.26,88.24 88.83,91.33 86.07,89.83 83.31,91.33 83.88,88.24 81.6,86.07 84.72,85.66" fill="#8E8E00"/>
<polygon points="91.07,92.06 92.42,94.9 95.54,95.3 93.26,97.47 93.83,100.56 91.07,99.06 88.31,100.56 88.88,97.47 86.6,95.3 89.72,94.9" fill="#8E8E00"/>
<polygon points="96.03,101.29 97.38,104.13 100.5,104.54 98.22,106.7 98.79,109.79 96.03,108.29 93.27,109.79 93.84,106.7 91.56,104.54 94.68,104.13" fill="#8E8E00"/>
<polygon points="100.94,110.52 102.29,113.36 105.41,113.77 103.13,115.93 103.7,119.02 100.94,117.52 98.18,119.02 98.75,115.93 96.47,113.77 99.59,113.36" fill="#8E8E00"/>
<polygon points="105.81,119.75 107.16,122.59 110.28,123 108,125.16 108.57,128.25 105.81,126.75 103.05,128.25 103.62,125.16 101.34,123 104.46,122.59" fill="#8E8E00"/>
<polygon points="110.63,128.98 111.99,131.82 115.1,132.23 112.82,134.39 113.4,137.48 110.63,135.98 107.87,137.48 108.45,134.39 106.16,132.23 109.28,131.82" fill="#8E8E00"/>
<polygon points="115.42,138.21 116.77,141.05 119.89,141.46 117.6,143.62 118.18,146.71 115.42,145.21 112.65,146.71 113.23,143.62 110.95,141.46 114.06,141.05" fill="#8E8E00"/>
<polygon points="120.15,147.44 121.51,150.28 124.62,150.69 122.34,152.85 122.92,155.95 120.15,154.44 117.39,155.95 117.97,152.85 115.68,150.69 118.8,150.28" fill="#8E8E00"/>
<polygon points="124.85,156.68 126.2,159.51 129.32,159.92 127.04,162.09 127.61,165.18 124.85,163.68 122.09,165.18 122.66,162.09 120.38,159.92 123.5,159.51" fill="#8E8E00"/>
<polygon points="129.5,165.91 130.85,168.75 133.97,169.15 131.69,171.32 132.26,174.41 129.5,172.91 126.74,174.41 127.31,171.32 125.03,169.15 128.15,168.75" fill="#8E8E00"/>
<polygon points="134.11,175.14 135.46,177.98 138.58,178.39 136.29,180.55 136.87,183.64 134.11,182.14 131.34,183.64 131.92,180.55 129.64,178.39 132.75,177.98" fill="#8E8E00"/>
<polygon points="138.67,184.37 140.02,187.21 143.14,187.62 140.86,189.78 141.43,192.87 138.67,191.37 135.91,192.87 136.48,189.78 134.2,187.62 137.32,187.21" fill="#8E8E00"/>
<polygon points="143.19,193.6 144.54,196.44 147.66,196.85 145.38,199.01 145.95,202.1 143.19,200.6 140.43,202.1 141,199.01 138.72,196.85 141.84,196.44" fill="#8E8E00"/>
<polygon points="147.66,202.83 149.02,205.67 152.13,206.08 149.85,208.24 150.43,211.33 147.66,209.83 144.9,211.33 145.48,208.24 143.19,206.08 146.31,205.67" fill="#8E8E00"/>
<polygon points="152.1,212.06 153.45,214.9 156.57,215.31 154.28,217.47 154.86,220.56 152.1,219.06 149.33,220.56 149.91,217.47 147.63,215.31 150.74,214.9" fill="#8E8E00"/>
<polygon points="156.48,221.29 157.84,224.13 160.95,224.54 158.67,226.7 159.25,229.8 156.48,228.29 153.72,229.8 154.3,226.7 152.01,224.54 155.13,224.13" fill="#8E8E00"/>
<polygon points="160.83,230.53 162.18,233.36 165.3,233.77 163.02,235.94 163.59,239.03 160.83,237.53 158.07,239.03 158.64,235.94 156.36,233.77 159.48,233.36" fill="#8E8E00"/>
<polygon points="165.13,239.76 166.48,242.6 169.6,243 167.32,245.17 167.89,248.26 165.13,246.76 162.37,248.26 162.94,245.17 160.66,243 163.78,242.6" fill="#8E8E00"/>
<polygon points="169.39,248.99 170.74,251.83 173.86,252.24 171.57,254.4 172.15,257.49 169.39,255.99 166.62,257.49 167.2,254.4 164.92,252.24 168.03,251.83" fill="#8E8E00"/>
<polygon points="173.6,258.22 174.95,261.06 178.07,261.47 175.79,263.63 176.36,266.72 173.6,265.22 170.84,266.72 171.41,263.63 169.13,261.47 172.25,261.06" fill="#8E8E00"/>
<polygon points="177.77,267.45 179.12,270.29 182.24,270.7 179.96,272.86 180.53,275.95 177.77,274.45 175.01,275.95 175.58,272.86 173.3,270.7 176.42,270.29" fill="#8E8E00"/>
<polygon points="181.9,276.68 183.25,279.52 186.37,279.93 184.08,282.09 184.66,285.18 181.9,283.68 179.13,285.18 179.71,282.09 177.43,279.93 180.54,279.52" fill="#8E8E00"/>
<polygon points="185.98,285.91 187.33,288.75 190.45,289.16 188.17,291.32 188.74,294.41 185.98,292.91 183.22,294.41 183.79,291.32 181.51,289.16 184.63,288.75" fill="#8E8E00"/>
<polygon points="190.02,295.14 191.37,297.98 194.49,298.39 192.2,300.55 192.78,303.65 190.02,302.14 187.25,303.65 187.83,300.55 185.55,298.39 188.67,297.98" fill="#8E8E00"/>
<polygon points="194.01,304.38 195.36,307.21 198.48,307.62 196.2,309.79 196.78,312.88 194.01,311.38 191.25,312.88 191.83,309.79 189.54,307.62 192.66,307.21" fill="#8E8E00"/>
<polygon points="197.96,313.61 199.32,316.45 202.43,316.85 200.15,319.02 200.73,322.11 197.96,320.61 195.2,322.11 195.78,319.02 193.49,316.85 196.61,316.45" fill="#8E8E00"/>
<polygon points="201.87,322.84 203.22,325.68 206.34,326.09 204.06,328.25 204.63,331.34 201.87,329.84 199.11,331.34 199.68,328.25 197.4,326.09 200.52,325.68" fill="#8E8E00"/>
<polygon points="205.74,332.07 207.09,334.91 210.21,335.32 207.92,337.48 208.5,340.57 205.74,339.07 202.97,340.57 203.55,337.48 201.27,335.32 204.38,334.91" fill="#8E8E00"/>
<polygon points="209.56,341.3 210.91,344.14 214.03,344.55 211.74,346.71 212.32,349.8 209.56,348.3 206.79,349.8 207.37,346.71 205.09,344.55 208.2,344.14" fill="#8E8E00"/>
<polygon points="213.33,350.53 214.69,353.37 217.8,353.78 215.52,355.94 216.1,359.03 213.33,357.53 210.57,359.03 211.15,355.94 208.86,353.78 211.98,353.37" fill="#8E8E00"/>
<polygon points="217.07,359.76 218.42,362.6 221.54,363.01 219.25,365.17 219.83,368.26 217.07,366.76 214.3,368.26 214.88,365.17 212.6,363.01 215.71,362.6" fill="#8E8E00"/>
<polygon points="220.76,368.99 222.11,371.83 225.23,372.24 222.94,374.4 223.52,377.5 220.76,375.99 217.99,377.5 218.57,374.4 216.29,372.24 219.4,371.83" fill="#8E8E00"/>
<polygon points="224.4,378.23 225.75,381.06 228.87,381.47 226.59,383.64 227.16,386.73 224.4,385.23 221.64,386.73 222.21,383.64 219.93,381.47 223.05,381.06" fill="#8E8E00"/>
<polygon points="228,387.46 229.36,390.3 232.47,390.7 230.19,392.87 230.77,395.96 228,394.46 225.24,395.96 225.82,392.87 223.53,390.7 226.65,390.3" fill="#8E8E00"/>
<polygon points="231.56,396.69 232.91,399.53 236.03,399.94 233.75,402.1 234.32,405.19 231.56,403.69 228.8,405.19 229.37,402.1 227.09,399.94 230.21,399.53" fill="#8E8E00"/>
<polygon points="235.08,405.92 236.43,408.76 239.55,409.17 237.26,411.33 237.84,414.42 235.08,412.92 232.31,414.42 232.89,411.33 230.61,409.17 233.72,408.76" fill="#8E8E00"/>
<polygon points="238.55,415.15 239.9,417.99 243.02,418.4 240.73,420.56 241.31,423.65 238.55,422.15 235.78,423.65 236.36,420.56 234.08,418.4 237.2,417.99" fill="#8E8E00"/>
<path d="M65.64,50.6 L71.18,59.83 L76.68,69.06 L82.12,78.29 L87.51,87.53 L92.86,96.76 L98.15,105.99 L103.39,115.22 L108.58,124.45 L113.72,133.68 L118.81,142.91 L123.85,152.14 L128.84,161.38 L133.78,170.61 L138.67,179.84 L143.51,189.07 L148.3,198.3 L153.03,207.53 L157.72,216.76 L162.36,225.99 L166.94,235.22 L171.48,244.46 L175.96,253.69 L180.4,262.92 L184.78,272.15 L189.11,281.38 L193.4,290.61 L197.63,299.84 L201.81,309.08 L205.94,318.31 L210.02,327.54 L214.05,336.77 L218.03,346 L221.96,355.23 L225.84,364.46 L229.67,373.69 L233.45,382.93 L237.17,392.16 L240.85,401.39 L244.48,410.62 L248.05,419.85" fill="none" stroke="#FB6501" stroke-width="1.20"/>
<path d="M65.35,50.6 L70.97,59.83 L76.55,69.06 L82.09,78.29 L87.6,87.53 L93.07,96.76 L98.51,105.99 L103.92,115.22 L109.31,124.45 L114.66,133.68 L119.99,142.91 L125.29,152.14 L130.57,161.38 L135.83,170.61 L141.07,179.84 L146.29,189.07 L151.49,198.3 L156.68,207.53 L161.86,216.76 L167.02,225.99 L172.17,235.22 L177.31,244.46 L182.44,253.69 L187.57,262.92 L192.69,272.15 L197.81,281.38 L202.93,290.61 L208.05,299.84 L213.17,309.08 L218.29,318.31 L223.41,327.54 L228.54,336.77 L233.68,346 L238.83,355.23 L243.99,364.46 L249.16,373.69 L254.34,382.93 L259.54,392.16 L264.76,401.39 L269.99,410.62 L275.24,419.85" fill="none" stroke="#6699CC" stroke-width="1.0" stroke-dasharray="5.5 7.07" stroke-dashoffset="-2.94"/>
</g>
<rect x="48.4" y="50.6" width="281.40000000000003" height="369.25" fill="none" stroke="#000" stroke-width="1.2"/>
<line x1="118.75" y1="50.6" x2="118.75" y2="56" stroke="#000" stroke-width="1.2"/>
<line x1="189.1" y1="50.6" x2="189.1" y2="56" stroke="#000" stroke-width="1.2"/>
<line x1="259.45" y1="50.6" x2="259.45" y2="56" stroke="#000" stroke-width="1.2"/>
<line x1="48.4" y1="124.45" x2="53.8" y2="124.45" stroke="#000" stroke-width="1.2"/>
<line x1="48.4" y1="198.3" x2="53.8" y2="198.3" stroke="#000" stroke-width="1.2"/>
<line x1="48.4" y1="272.15" x2="53.8" y2="272.15" stroke="#000" stroke-width="1.2"/>
<line x1="48.4" y1="346" x2="53.8" y2="346" stroke="#000" stroke-width="1.2"/>
<clipPath id="cb"><rect x="398.5" y="46.4" width="282.1" height="369.90000000000003"/></clipPath>
<g clip-path="url(#cb)">
<path d="M579.57,46.4 L577.93,55.65 L576.29,64.89 L574.65,74.14 L573.01,83.39 L571.36,92.64 L569.72,101.89 L568.07,111.13 L566.42,120.38 L564.77,129.63 L563.12,138.88 L561.46,148.12 L559.81,157.37 L558.15,166.62 L556.5,175.87 L554.84,185.11 L553.18,194.36 L551.52,203.61 L549.85,212.86 L548.19,222.1 L546.52,231.35 L544.86,240.6 L543.19,249.85 L541.52,259.09 L539.85,268.34 L538.18,277.59 L536.5,286.84 L534.83,296.08 L533.15,305.33 L531.48,314.58 L529.8,323.82 L528.12,333.07 L526.44,342.32 L524.76,351.57 L523.07,360.82 L521.39,370.06 L519.7,379.31 L518.01,388.56 L516.32,397.81 L514.63,407.05 L512.94,416.3" fill="none" stroke="#515151" stroke-width="1.0"/>
<rect x="576.72" y="43.55" width="5.7" height="5.7" fill="#515151"/>
<rect x="575.08" y="52.8" width="5.7" height="5.7" fill="#515151"/>
<rect x="573.44" y="62.04" width="5.7" height="5.7" fill="#515151"/>
<rect x="571.8" y="71.29" width="5.7" height="5.7" fill="#515151"/>
<rect x="570.16" y="80.54" width="5.7" height="5.7" fill="#515151"/>
<rect x="568.51" y="89.79" width="5.7" height="5.7" fill="#515151"/>
<rect x="566.87" y="99.04" width="5.7" height="5.7" fill="#515151"/>
<rect x="565.22" y="108.28" width="5.7" height="5.7" fill="#515151"/>
<rect x="563.57" y="117.53" width="5.7" height="5.7" fill="#515151"/>
<rect x="561.92" y="126.78" width="5.7" height="5.7" fill="#515151"/>
<rect x="560.27" y="136.03" width="5.7" height="5.7" fill="#515151"/>
<rect x="558.61" y="145.27" width="5.7" height="5.7" fill="#515151"/>
<rect x="556.96" y="154.52" width="5.7" height="5.7" fill="#515151"/>
<rect x="555.3" y="163.77" width="5.7" height="5.7" fill="#515151"/>
<rect x="553.65" y="173.02" width="5.7" height="5.7" fill="#515151"/>
<rect x="551.99" y="182.26" width="5.7" height="5.7" fill="#515151"/>
<rect x="550.33" y="191.51" width="5.7" height="5.7" fill="#515151"/>
<rect x="548.67" y="200.76" width="5.7" height="5.7" fill="#515151"/>
<rect x="547" y="210.01" width="5.7" height="5.7" fill="#515151"/>
<rect x="545.34" y="219.25" width="5.7" height="5.7" fill="#515151"/>
<rect x="543.67" y="228.5" width="5.7" height="5.7" fill="#515151"/>
<rect x="542.01" y="237.75" width="5.7" height="5.7" fill="#515151"/>
<rect x="540.34" y="247" width="5.7" height="5.7" fill="#515151"/>
<rect x="538.67" y="256.24" width="5.7" height="5.7" fill="#515151"/>
<rect x="537" y="265.49" width="5.7" height="5.7" fill="#515151"/>
<rect x="535.33" y="274.74" width="5.7" height="5.7" fill="#515151"/>
<rect x="533.65" y="283.99" width="5.7" height="5.7" fill="#515151"/>
<rect x="531.98" y="293.23" width="5.7" height="5.7" fill="#515151"/>
<rect x="530.3" y="302.48" width="5.7" height="5.7" fill="#515151"/>
<rect x="528.63" y="311.73" width="5.7" height="5.7" fill="#515151"/>
<rect x="526.95" y="320.97" width="5.7" height="5.7" fill="#515151"/>
<rect x="525.27" y="330.22" width="5.7" height="5.7" fill="#515151"/>
<rect x="523.59" y="339.47" width="5.7" height="5.7" fill="#515151"/>
<rect x="521.91" y="348.72" width="5.7" height="5.7" fill="#515151"/>
<rect x="520.22" y="357.97" width="5.7" height="5.7" fill="#515151"/>
<rect x="518.54" y="367.21" width="5.7" height="5.7" fill="#515151"/>
<rect x="516.85" y="376.46" width="5.7" height="5.7" fill="#515151"/>
<rect x="515.16" y="385.71" width="5.7" height="5.7" fill="#515151"/>
<rect x="513.47" y="394.95" width="5.7" height="5.7" fill="#515151"/>
<rect x="511.78" y="404.2" width="5.7" height="5.7" fill="#515151"/>
<rect x="510.09" y="413.45" width="5.7" height="5.7" fill="#515151"/>
<path d="M578.87,46.4 L577.14,55.65 L575.4,64.89 L573.65,74.14 L571.91,83.39 L570.15,92.64 L568.39,101.89 L566.63,111.13 L564.86,120.38 L563.09,129.63 L561.32,138.88 L559.53,148.12 L557.75,157.37 L555.96,166.62 L554.16,175.87 L552.37,185.11 L550.56,194.36 L548.75,203.61 L546.94,212.86 L545.12,222.1 L543.3,231.35 L541.47,240.6 L539.64,249.85 L537.81,259.09 L535.96,268.34 L534.12,277.59 L532.27,286.84 L530.42,296.08 L528.56,305.33 L526.69,314.58 L524.82,323.82 L522.95,333.07 L521.07,342.32 L519.19,351.57 L517.31,360.82 L515.42,370.06 L513.52,379.31 L511.62,388.56 L509.71,397.81 L507.81,407.05 L505.89,416.3" fill="none" stroke="#F14040" stroke-width="1.0"/>
<circle cx="578.87" cy="46.4" r="3.35" fill="#F14040"/>
<circle cx="577.14" cy="55.65" r="3.35" fill="#F14040"/>
<circle cx="575.4" cy="64.89" r="3.35" fill="#F14040"/>
<circle cx="573.65" cy="74.14" r="3.35" fill="#F14040"/>
<circle cx="571.91" cy="83.39" r="3.35" fill="#F14040"/>
<circle cx="570.15" cy="92.64" r="3.35" fill="#F14040"/>
<circle cx="568.39" cy="101.89" r="3.35" fill="#F14040"/>
<circle cx="566.63" cy="111.13" r="3.35" fill="#F14040"/>
<circle cx="564.86" cy="120.38" r="3.35" fill="#F14040"/>
<circle cx="563.09" cy="129.63" r="3.35" fill="#F14040"/>
<circle cx="561.32" cy="138.88" r="3.35" fill="#F14040"/>
<circle cx="559.53" cy="148.12" r="3.35" fill="#F14040"/>
<circle cx="557.75" cy="157.37" r="3.35" fill="#F14040"/>
<circle cx="555.96" cy="166.62" r="3.35" fill="#F14040"/>
<circle cx="554.16" cy="175.87" r="3.35" fill="#F14040"/>
<circle cx="552.37" cy="185.11" r="3.35" fill="#F14040"/>
<circle cx="550.56" cy="194.36" r="3.35" fill="#F14040"/>
<circle cx="548.75" cy="203.61" r="3.35" fill="#F14040"/>
<circle cx="546.94" cy="212.86" r="3.35" fill="#F14040"/>
<circle cx="545.12" cy="222.1" r="3.35" fill="#F14040"/>
<circle cx="543.3" cy="231.35" r="3.35" fill="#F14040"/>
<circle cx="541.47" cy="240.6" r="3.35" fill="#F14040"/>
<circle cx="539.64" cy="249.85" r="3.35" fill="#F14040"/>
<circle cx="537.81" cy="259.09" r="3.35" fill="#F14040"/>
<circle cx="535.96" cy="268.34" r="3.35" fill="#F14040"/>
<circle cx="534.12" cy="277.59" r="3.35" fill="#F14040"/>
<circle cx="532.27" cy="286.84" r="3.35" fill="#F14040"/>
<circle cx="530.42" cy="296.08" r="3.35" fill="#F14040"/>
<circle cx="528.56" cy="305.33" r="3.35" fill="#F14040"/>
<circle cx="526.69" cy="314.58" r="3.35" fill="#F14040"/>
<circle cx="524.82" cy="323.82" r="3.35" fill="#F14040"/>
<circle cx="522.95" cy="333.07" r="3.35" fill="#F14040"/>
<circle cx="521.07" cy="342.32" r="3.35" fill="#F14040"/>
<circle cx="519.19" cy="351.57" r="3.35" fill="#F14040"/>
<circle cx="517.31" cy="360.82" r="3.35" fill="#F14040"/>
<circle cx="515.42" cy="370.06" r="3.35" fill="#F14040"/>
<circle cx="513.52" cy="379.31" r="3.35" fill="#F14040"/>
<circle cx="511.62" cy="388.56" r="3.35" fill="#F14040"/>
<circle cx="509.71" cy="397.81" r="3.35" fill="#F14040"/>
<circle cx="507.81" cy="407.05" r="3.35" fill="#F14040"/>
<circle cx="505.89" cy="416.3" r="3.35" fill="#F14040"/>
<path d="M578.38,46.4 L576.55,55.65 L574.71,64.89 L572.86,74.14 L571,83.39 L569.14,92.64 L567.26,101.89 L565.38,111.13 L563.49,120.38 L561.58,129.63 L559.67,138.88 L557.75,148.12 L555.82,157.37 L553.89,166.62 L551.94,175.87 L549.98,185.11 L548.02,194.36 L546.04,203.61 L544.06,212.86 L542.07,222.1 L540.07,231.35 L538.06,240.6 L536.04,249.85 L534.01,259.09 L531.97,268.34 L529.93,277.59 L527.87,286.84 L525.81,296.08 L523.74,305.33 L521.65,314.58 L519.56,323.82 L517.46,333.07 L515.35,342.32 L513.23,351.57 L511.11,360.82 L508.97,370.06 L506.83,379.31 L504.67,388.56 L502.51,397.81 L500.34,407.05 L498.15,416.3" fill="none" stroke="#1A6FDF" stroke-width="1.0"/>
<polygon points="578.38,41.33 582.98,48.93 573.78,48.93" fill="#1A6FDF"/>
<polygon points="576.55,50.58 581.15,58.18 571.95,58.18" fill="#1A6FDF"/>
<polygon points="574.71,59.83 579.31,67.43 570.11,67.43" fill="#1A6FDF"/>
<polygon points="572.86,69.08 577.46,76.68 568.26,76.68" fill="#1A6FDF"/>
<polygon points="571,78.32 575.6,85.92 566.4,85.92" fill="#1A6FDF"/>
<polygon points="569.14,87.57 573.74,95.17 564.54,95.17" fill="#1A6FDF"/>
<polygon points="567.26,96.82 571.86,104.42 562.66,104.42" fill="#1A6FDF"/>
<polygon points="565.38,106.07 569.98,113.67 560.78,113.67" fill="#1A6FDF"/>
<polygon points="563.49,115.31 568.09,122.91 558.89,122.91" fill="#1A6FDF"/>
<polygon points="561.58,124.56 566.18,132.16 556.98,132.16" fill="#1A6FDF"/>
<polygon points="559.67,133.81 564.27,141.41 555.07,141.41" fill="#1A6FDF"/>
<polygon points="557.75,143.06 562.35,150.66 553.15,150.66" fill="#1A6FDF"/>
<polygon points="555.82,152.3 560.42,159.9 551.22,159.9" fill="#1A6FDF"/>
<polygon points="553.89,161.55 558.49,169.15 549.29,169.15" fill="#1A6FDF"/>
<polygon points="551.94,170.8 556.54,178.4 547.34,178.4" fill="#1A6FDF"/>
<polygon points="549.98,180.05 554.58,187.65 545.38,187.65" fill="#1A6FDF"/>
<polygon points="548.02,189.29 552.62,196.89 543.42,196.89" fill="#1A6FDF"/>
<polygon points="546.04,198.54 550.64,206.14 541.44,206.14" fill="#1A6FDF"/>
<polygon points="544.06,207.79 548.66,215.39 539.46,215.39" fill="#1A6FDF"/>
<polygon points="542.07,217.04 546.67,224.64 537.47,224.64" fill="#1A6FDF"/>
<polygon points="540.07,226.28 544.67,233.88 535.47,233.88" fill="#1A6FDF"/>
<polygon points="538.06,235.53 542.66,243.13 533.46,243.13" fill="#1A6FDF"/>
<polygon points="536.04,244.78 540.64,252.38 531.44,252.38" fill="#1A6FDF"/>
<polygon points="534.01,254.03 538.61,261.63 529.41,261.63" fill="#1A6FDF"/>
<polygon points="531.97,263.27 536.57,270.87 527.37,270.87" fill="#1A6FDF"/>
<polygon points="529.93,272.52 534.53,280.12 525.33,280.12" fill="#1A6FDF"/>
<polygon points="527.87,281.77 532.47,289.37 523.27,289.37" fill="#1A6FDF"/>
<polygon points="525.81,291.02 530.41,298.62 521.21,298.62" fill="#1A6FDF"/>
<polygon points="523.74,300.26 528.34,307.86 519.14,307.86" fill="#1A6FDF"/>
<polygon points="521.65,309.51 526.25,317.11 517.05,317.11" fill="#1A6FDF"/>
<polygon points="519.56,318.76 524.16,326.36 514.96,326.36" fill="#1A6FDF"/>
<polygon points="517.46,328.01 522.06,335.61 512.86,335.61" fill="#1A6FDF"/>
<polygon points="515.35,337.25 519.95,344.85 510.75,344.85" fill="#1A6FDF"/>
<polygon points="513.23,346.5 517.83,354.1 508.63,354.1" fill="#1A6FDF"/>
<polygon points="511.11,355.75 515.71,363.35 506.51,363.35" fill="#1A6FDF"/>
<polygon points="508.97,365 513.57,372.6 504.37,372.6" fill="#1A6FDF"/>
<polygon points="506.83,374.24 511.43,381.84 502.23,381.84" fill="#1A6FDF"/>
<polygon points="504.67,383.49 509.27,391.09 500.07,391.09" fill="#1A6FDF"/>
<polygon points="502.51,392.74 507.11,400.34 497.91,400.34" fill="#1A6FDF"/>
<polygon points="500.34,401.99 504.94,409.59 495.74,409.59" fill="#1A6FDF"/>
<polygon points="498.15,411.23 502.75,418.83 493.55,418.83" fill="#1A6FDF"/>
<path d="M578.2,46.4 L576.25,55.65 L574.29,64.89 L572.32,74.14 L570.33,83.39 L568.33,92.64 L566.32,101.89 L564.29,111.13 L562.25,120.38 L560.2,129.63 L558.13,138.88 L556.05,148.12 L553.96,157.37 L551.85,166.62 L549.73,175.87 L547.6,185.11 L545.46,194.36 L543.3,203.61 L541.13,212.86 L538.94,222.1 L536.74,231.35 L534.53,240.6 L532.31,249.85 L530.07,259.09 L527.82,268.34 L525.55,277.59 L523.28,286.84 L520.98,296.08 L518.68,305.33 L516.36,314.58 L514.03,323.82 L511.69,333.07 L509.33,342.32 L506.96,351.57 L504.58,360.82 L502.18,370.06 L499.77,379.31 L497.35,388.56 L494.91,397.81 L492.46,407.05 L490,416.3" fill="none" stroke="#37AD6B" stroke-width="1.0"/>
<polygon points="578.2,51.47 582.8,43.87 573.6,43.87" fill="#37AD6B"/>
<polygon points="576.25,60.71 580.85,53.11 571.65,53.11" fill="#37AD6B"/>
<polygon points="574.29,69.96 578.89,62.36 569.69,62.36" fill="#37AD6B"/>
<polygon points="572.32,79.21 576.92,71.61 567.72,71.61" fill="#37AD6B"/>
<polygon points="570.33,88.46 574.93,80.86 565.73,80.86" fill="#37AD6B"/>
<polygon points="568.33,97.7 572.93,90.1 563.73,90.1" fill="#37AD6B"/>
<polygon points="566.32,106.95 570.92,99.35 561.72,99.35" fill="#37AD6B"/>
<polygon points="564.29,116.2 568.89,108.6 559.69,108.6" fill="#37AD6B"/>
<polygon points="562.25,125.45 566.85,117.85 557.65,117.85" fill="#37AD6B"/>
<polygon points="560.2,134.69 564.8,127.09 555.6,127.09" fill="#37AD6B"/>
<polygon points="558.13,143.94 562.73,136.34 553.53,136.34" fill="#37AD6B"/>
<polygon points="556.05,153.19 560.65,145.59 551.45,145.59" fill="#37AD6B"/>
<polygon points="553.96,162.44 558.56,154.84 549.36,154.84" fill="#37AD6B"/>
<polygon points="551.85,171.68 556.45,164.08 547.25,164.08" fill="#37AD6B"/>
<polygon points="549.73,180.93 554.33,173.33 545.13,173.33" fill="#37AD6B"/>
<polygon points="547.6,190.18 552.2,182.58 543,182.58" fill="#37AD6B"/>
<polygon points="545.46,199.43 550.06,191.83 540.86,191.83" fill="#37AD6B"/>
<polygon points="543.3,208.67 547.9,201.07 538.7,201.07" fill="#37AD6B"/>
<polygon points="541.13,217.92 545.73,210.32 536.53,210.32" fill="#37AD6B"/>
<polygon points="538.94,227.17 543.54,219.57 534.34,219.57" fill="#37AD6B"/>
<polygon points="536.74,236.42 541.34,228.82 532.14,228.82" fill="#37AD6B"/>
<polygon points="534.53,245.66 539.13,238.06 529.93,238.06" fill="#37AD6B"/>
<polygon points="532.31,254.91 536.91,247.31 527.71,247.31" fill="#37AD6B"/>
<polygon points="530.07,264.16 534.67,256.56 525.47,256.56" fill="#37AD6B"/>
<polygon points="527.82,273.41 532.42,265.81 523.22,265.81" fill="#37AD6B"/>
<polygon points="525.55,282.65 530.15,275.05 520.95,275.05" fill="#37AD6B"/>
<polygon points="523.28,291.9 527.88,284.3 518.68,284.3" fill="#37AD6B"/>
<polygon points="520.98,301.15 525.58,293.55 516.38,293.55" fill="#37AD6B"/>
<polygon points="518.68,310.4 523.28,302.8 514.08,302.8" fill="#37AD6B"/>
<polygon points="516.36,319.64 520.96,312.04 511.76,312.04" fill="#37AD6B"/>
<polygon points="514.03,328.89 518.63,321.29 509.43,321.29" fill="#37AD6B"/>
<polygon points="511.69,338.14 516.29,330.54 507.09,330.54" fill="#37AD6B"/>
<polygon points="509.33,347.39 513.93,339.79 504.73,339.79" fill="#37AD6B"/>
<polygon points="506.96,356.63 511.56,349.03 502.36,349.03" fill="#37AD6B"/>
<polygon points="504.58,365.88 509.18,358.28 499.98,358.28" fill="#37AD6B"/>
<polygon points="502.18,375.13 506.78,367.53 497.58,367.53" fill="#37AD6B"/>
<polygon points="499.77,384.38 504.37,376.78 495.17,376.78" fill="#37AD6B"/>
<polygon points="497.35,393.62 501.95,386.02 492.75,386.02" fill="#37AD6B"/>
<polygon points="494.91,402.87 499.51,395.27 490.31,395.27" fill="#37AD6B"/>
<polygon points="492.46,412.12 497.06,404.52 487.86,404.52" fill="#37AD6B"/>
<polygon points="490,421.37 494.6,413.77 485.4,413.77" fill="#37AD6B"/>
<path d="M578.04,46.4 L575.96,55.65 L573.86,64.89 L571.75,74.14 L569.61,83.39 L567.47,92.64 L565.3,101.89 L563.12,111.13 L560.92,120.38 L558.71,129.63 L556.47,138.88 L554.23,148.12 L551.96,157.37 L549.68,166.62 L547.38,175.87 L545.06,185.11 L542.73,194.36 L540.38,203.61 L538.01,212.86 L535.63,222.1 L533.23,231.35 L530.81,240.6 L528.38,249.85 L525.93,259.09 L523.46,268.34 L520.98,277.59 L518.48,286.84 L515.96,296.08 L513.43,305.33 L510.87,314.58 L508.31,323.82 L505.72,333.07 L503.12,342.32 L500.5,351.57 L497.87,360.82 L495.21,370.06 L492.55,379.31 L489.86,388.56 L487.16,397.81 L484.44,407.05 L481.7,416.3" fill="none" stroke="#B177DE" stroke-width="1.0"/>
<polygon points="578.04,42.05 582.39,46.4 578.04,50.75 573.69,46.4" fill="#B177DE"/>
<polygon points="575.96,51.3 580.31,55.65 575.96,60 571.61,55.65" fill="#B177DE"/>
<polygon points="573.86,60.54 578.21,64.89 573.86,69.24 569.51,64.89" fill="#B177DE"/>
<polygon points="571.75,69.79 576.1,74.14 571.75,78.49 567.4,74.14" fill="#B177DE"/>
<polygon points="569.61,79.04 573.96,83.39 569.61,87.74 565.26,83.39" fill="#B177DE"/>
<polygon points="567.47,88.29 571.82,92.64 567.47,96.99 563.12,92.64" fill="#B177DE"/>
<polygon points="565.3,97.54 569.65,101.89 565.3,106.24 560.95,101.89" fill="#B177DE"/>
<polygon points="563.12,106.78 567.47,111.13 563.12,115.48 558.77,111.13" fill="#B177DE"/>
<polygon points="560.92,116.03 565.27,120.38 560.92,124.73 556.57,120.38" fill="#B177DE"/>
<polygon points="558.71,125.28 563.06,129.63 558.71,133.98 554.36,129.63" fill="#B177DE"/>
<polygon points="556.47,134.53 560.82,138.88 556.47,143.22 552.12,138.88" fill="#B177DE"/>
<polygon points="554.23,143.77 558.58,148.12 554.23,152.47 549.88,148.12" fill="#B177DE"/>
<polygon points="551.96,153.02 556.31,157.37 551.96,161.72 547.61,157.37" fill="#B177DE"/>
<polygon points="549.68,162.27 554.03,166.62 549.68,170.97 545.33,166.62" fill="#B177DE"/>
<polygon points="547.38,171.52 551.73,175.87 547.38,180.22 543.03,175.87" fill="#B177DE"/>
<polygon points="545.06,180.76 549.41,185.11 545.06,189.46 540.71,185.11" fill="#B177DE"/>
<polygon points="542.73,190.01 547.08,194.36 542.73,198.71 538.38,194.36" fill="#B177DE"/>
<polygon points="540.38,199.26 544.73,203.61 540.38,207.96 536.03,203.61" fill="#B177DE"/>
<polygon points="538.01,208.51 542.36,212.86 538.01,217.21 533.66,212.86" fill="#B177DE"/>
<polygon points="535.63,217.75 539.98,222.1 535.63,226.45 531.28,222.1" fill="#B177DE"/>
<polygon points="533.23,227 537.58,231.35 533.23,235.7 528.88,231.35" fill="#B177DE"/>
<polygon points="530.81,236.25 535.16,240.6 530.81,244.95 526.46,240.6" fill="#B177DE"/>
<polygon points="528.38,245.5 532.73,249.85 528.38,254.2 524.03,249.85" fill="#B177DE"/>
<polygon points="525.93,254.74 530.28,259.09 525.93,263.44 521.58,259.09" fill="#B177DE"/>
<polygon points="523.46,263.99 527.81,268.34 523.46,272.69 519.11,268.34" fill="#B177DE"/>
<polygon points="520.98,273.24 525.33,277.59 520.98,281.94 516.63,277.59" fill="#B177DE"/>
<polygon points="518.48,282.49 522.83,286.84 518.48,291.19 514.13,286.84" fill="#B177DE"/>
<polygon points="515.96,291.73 520.31,296.08 515.96,300.43 511.61,296.08" fill="#B177DE"/>
<polygon points="513.43,300.98 517.78,305.33 513.43,309.68 509.08,305.33" fill="#B177DE"/>
<polygon points="510.87,310.23 515.22,314.58 510.87,318.93 506.52,314.58" fill="#B177DE"/>
<polygon points="508.31,319.47 512.66,323.82 508.31,328.18 503.96,323.82" fill="#B177DE"/>
<polygon points="505.72,328.72 510.07,333.07 505.72,337.42 501.37,333.07" fill="#B177DE"/>
<polygon points="503.12,337.97 507.47,342.32 503.12,346.67 498.77,342.32" fill="#B177DE"/>
<polygon points="500.5,347.22 504.85,351.57 500.5,355.92 496.15,351.57" fill="#B177DE"/>
<polygon points="497.87,356.47 502.22,360.82 497.87,365.17 493.52,360.82" fill="#B177DE"/>
<polygon points="495.21,365.71 499.56,370.06 495.21,374.41 490.86,370.06" fill="#B177DE"/>
<polygon points="492.55,374.96 496.9,379.31 492.55,383.66 488.2,379.31" fill="#B177DE"/>
<polygon points="489.86,384.21 494.21,388.56 489.86,392.91 485.51,388.56" fill="#B177DE"/>
<polygon points="487.16,393.45 491.51,397.81 487.16,402.16 482.81,397.81" fill="#B177DE"/>
<polygon points="484.44,402.7 488.79,407.05 484.44,411.4 480.09,407.05" fill="#B177DE"/>
<polygon points="481.7,411.95 486.05,416.3 481.7,420.65 477.35,416.3" fill="#B177DE"/>
<path d="M577.93,46.4 L575.74,55.65 L573.53,64.89 L571.3,74.14 L569.04,83.39 L566.77,92.64 L564.47,101.89 L562.15,111.13 L559.8,120.38 L557.44,129.63 L555.05,138.88 L552.64,148.12 L550.21,157.37 L547.75,166.62 L545.27,175.87 L542.77,185.11 L540.25,194.36 L537.71,203.61 L535.14,212.86 L532.55,222.1 L529.94,231.35 L527.31,240.6 L524.66,249.85 L521.98,259.09 L519.28,268.34 L516.56,277.59 L513.81,286.84 L511.05,296.08 L508.26,305.33 L505.45,314.58 L502.61,323.82 L499.76,333.07 L496.88,342.32 L493.98,351.57 L491.06,360.82 L488.11,370.06 L485.15,379.31 L482.16,388.56 L479.15,397.81 L476.11,407.05 L473.06,416.3" fill="none" stroke="#CC9900" stroke-width="1.0"/>
<polygon points="572.86,46.4 580.46,41.8 580.46,51" fill="#CC9900"/>
<polygon points="570.67,55.65 578.27,51.05 578.27,60.25" fill="#CC9900"/>
<polygon points="568.46,64.89 576.06,60.29 576.06,69.49" fill="#CC9900"/>
<polygon points="566.23,74.14 573.83,69.54 573.83,78.74" fill="#CC9900"/>
<polygon points="563.98,83.39 571.58,78.79 571.58,87.99" fill="#CC9900"/>
<polygon points="561.7,92.64 569.3,88.04 569.3,97.24" fill="#CC9900"/>
<polygon points="559.4,101.89 567,97.29 567,106.49" fill="#CC9900"/>
<polygon points="557.08,111.13 564.68,106.53 564.68,115.73" fill="#CC9900"/>
<polygon points="554.74,120.38 562.34,115.78 562.34,124.98" fill="#CC9900"/>
<polygon points="552.37,129.63 559.97,125.03 559.97,134.23" fill="#CC9900"/>
<polygon points="549.98,138.88 557.58,134.28 557.58,143.47" fill="#CC9900"/>
<polygon points="547.57,148.12 555.17,143.52 555.17,152.72" fill="#CC9900"/>
<polygon points="545.14,157.37 552.74,152.77 552.74,161.97" fill="#CC9900"/>
<polygon points="542.68,166.62 550.28,162.02 550.28,171.22" fill="#CC9900"/>
<polygon points="540.21,175.87 547.81,171.27 547.81,180.47" fill="#CC9900"/>
<polygon points="537.71,185.11 545.31,180.51 545.31,189.71" fill="#CC9900"/>
<polygon points="535.19,194.36 542.79,189.76 542.79,198.96" fill="#CC9900"/>
<polygon points="532.64,203.61 540.24,199.01 540.24,208.21" fill="#CC9900"/>
<polygon points="530.08,212.86 537.68,208.26 537.68,217.46" fill="#CC9900"/>
<polygon points="527.49,222.1 535.09,217.5 535.09,226.7" fill="#CC9900"/>
<polygon points="524.88,231.35 532.48,226.75 532.48,235.95" fill="#CC9900"/>
<polygon points="522.24,240.6 529.84,236 529.84,245.2" fill="#CC9900"/>
<polygon points="519.59,249.85 527.19,245.25 527.19,254.45" fill="#CC9900"/>
<polygon points="516.91,259.09 524.51,254.49 524.51,263.69" fill="#CC9900"/>
<polygon points="514.21,268.34 521.81,263.74 521.81,272.94" fill="#CC9900"/>
<polygon points="511.49,277.59 519.09,272.99 519.09,282.19" fill="#CC9900"/>
<polygon points="508.75,286.84 516.35,282.24 516.35,291.44" fill="#CC9900"/>
<polygon points="505.98,296.08 513.58,291.48 513.58,300.68" fill="#CC9900"/>
<polygon points="503.19,305.33 510.79,300.73 510.79,309.93" fill="#CC9900"/>
<polygon points="500.38,314.58 507.98,309.98 507.98,319.18" fill="#CC9900"/>
<polygon points="497.55,323.82 505.15,319.22 505.15,328.43" fill="#CC9900"/>
<polygon points="494.69,333.07 502.29,328.47 502.29,337.67" fill="#CC9900"/>
<polygon points="491.81,342.32 499.41,337.72 499.41,346.92" fill="#CC9900"/>
<polygon points="488.91,351.57 496.51,346.97 496.51,356.17" fill="#CC9900"/>
<polygon points="485.99,360.82 493.59,356.22 493.59,365.42" fill="#CC9900"/>
<polygon points="483.05,370.06 490.65,365.46 490.65,374.66" fill="#CC9900"/>
<polygon points="480.08,379.31 487.68,374.71 487.68,383.91" fill="#CC9900"/>
<polygon points="477.09,388.56 484.69,383.96 484.69,393.16" fill="#CC9900"/>
<polygon points="474.08,397.81 481.68,393.2 481.68,402.41" fill="#CC9900"/>
<polygon points="471.05,407.05 478.65,402.45 478.65,411.65" fill="#CC9900"/>
<polygon points="467.99,416.3 475.59,411.7 475.59,420.9" fill="#CC9900"/>
<path d="M579.02,46.4 L576.64,55.65 L574.24,64.89 L571.8,74.14 L569.35,83.39 L566.87,92.64 L564.36,101.89 L561.83,111.13 L559.27,120.38 L556.68,129.63 L554.07,138.88 L551.44,148.12 L548.78,157.37 L546.09,166.62 L543.38,175.87 L540.65,185.11 L537.89,194.36 L535.1,203.61 L532.29,212.86 L529.45,222.1 L526.58,231.35 L523.7,240.6 L520.78,249.85 L517.84,259.09 L514.88,268.34 L511.89,277.59 L508.87,286.84 L505.83,296.08 L502.76,305.33 L499.67,314.58 L496.56,323.82 L493.41,333.07 L490.24,342.32 L487.05,351.57 L483.83,360.82 L480.59,370.06 L477.32,379.31 L474.02,388.56 L470.7,397.81 L467.36,407.05 L463.98,416.3" fill="none" stroke="#00CBCC" stroke-width="1.0"/>
<polygon points="584.09,46.4 576.49,41.8 576.49,51" fill="#00CBCC"/>
<polygon points="581.71,55.65 574.11,51.05 574.11,60.25" fill="#00CBCC"/>
<polygon points="579.3,64.89 571.7,60.29 571.7,69.49" fill="#00CBCC"/>
<polygon points="576.87,74.14 569.27,69.54 569.27,78.74" fill="#00CBCC"/>
<polygon points="574.41,83.39 566.81,78.79 566.81,87.99" fill="#00CBCC"/>
<polygon points="571.93,92.64 564.33,88.04 564.33,97.24" fill="#00CBCC"/>
<polygon points="569.42,101.89 561.82,97.29 561.82,106.49" fill="#00CBCC"/>
<polygon points="566.89,111.13 559.29,106.53 559.29,115.73" fill="#00CBCC"/>
<polygon points="564.33,120.38 556.73,115.78 556.73,124.98" fill="#00CBCC"/>
<polygon points="561.75,129.63 554.15,125.03 554.15,134.23" fill="#00CBCC"/>
<polygon points="559.14,138.88 551.54,134.28 551.54,143.47" fill="#00CBCC"/>
<polygon points="556.51,148.12 548.91,143.52 548.91,152.72" fill="#00CBCC"/>
<polygon points="553.85,157.37 546.25,152.77 546.25,161.97" fill="#00CBCC"/>
<polygon points="551.16,166.62 543.56,162.02 543.56,171.22" fill="#00CBCC"/>
<polygon points="548.45,175.87 540.85,171.27 540.85,180.47" fill="#00CBCC"/>
<polygon points="545.71,185.11 538.11,180.51 538.11,189.71" fill="#00CBCC"/>
<polygon points="542.95,194.36 535.35,189.76 535.35,198.96" fill="#00CBCC"/>
<polygon points="540.17,203.61 532.57,199.01 532.57,208.21" fill="#00CBCC"/>
<polygon points="537.35,212.86 529.75,208.26 529.75,217.46" fill="#00CBCC"/>
<polygon points="534.51,222.1 526.91,217.5 526.91,226.7" fill="#00CBCC"/>
<polygon points="531.65,231.35 524.05,226.75 524.05,235.95" fill="#00CBCC"/>
<polygon points="528.76,240.6 521.16,236 521.16,245.2" fill="#00CBCC"/>
<polygon points="525.85,249.85 518.25,245.25 518.25,254.45" fill="#00CBCC"/>
<polygon points="522.91,259.09 515.31,254.49 515.31,263.69" fill="#00CBCC"/>
<polygon points="519.94,268.34 512.34,263.74 512.34,272.94" fill="#00CBCC"/>
<polygon points="516.95,277.59 509.35,272.99 509.35,282.19" fill="#00CBCC"/>
<polygon points="513.94,286.84 506.34,282.24 506.34,291.44" fill="#00CBCC"/>
<polygon points="510.9,296.08 503.3,291.48 503.3,300.68" fill="#00CBCC"/>
<polygon points="507.83,305.33 500.23,300.73 500.23,309.93" fill="#00CBCC"/>
<polygon points="504.74,314.58 497.14,309.98 497.14,319.18" fill="#00CBCC"/>
<polygon points="501.62,323.82 494.02,319.22 494.02,328.43" fill="#00CBCC"/>
<polygon points="498.48,333.07 490.88,328.47 490.88,337.67" fill="#00CBCC"/>
<polygon points="495.31,342.32 487.71,337.72 487.71,346.92" fill="#00CBCC"/>
<polygon points="492.12,351.57 484.52,346.97 484.52,356.17" fill="#00CBCC"/>
<polygon points="488.9,360.82 481.3,356.22 481.3,365.42" fill="#00CBCC"/>
<polygon points="485.65,370.06 478.05,365.46 478.05,374.66" fill="#00CBCC"/>
<polygon points="482.38,379.31 474.78,374.71 474.78,383.91" fill="#00CBCC"/>
<polygon points="479.09,388.56 471.49,383.96 471.49,393.16" fill="#00CBCC"/>
<polygon points="475.77,397.81 468.17,393.2 468.17,402.41" fill="#00CBCC"/>
<polygon points="472.42,407.05 464.82,402.45 464.82,411.65" fill="#00CBCC"/>
<polygon points="469.05,416.3 461.45,411.7 461.45,420.9" fill="#00CBCC"/>
<path d="M577.7,46.4 L575.16,55.65 L572.59,64.89 L569.99,74.14 L567.37,83.39 L564.72,92.64 L562.04,101.89 L559.33,111.13 L556.6,120.38 L553.83,129.63 L551.04,138.88 L548.22,148.12 L545.38,157.37 L542.5,166.62 L539.6,175.87 L536.67,185.11 L533.71,194.36 L530.73,203.61 L527.71,212.86 L524.67,222.1 L521.6,231.35 L518.51,240.6 L515.38,249.85 L512.23,259.09 L509.05,268.34 L505.84,277.59 L502.61,286.84 L499.34,296.08 L496.05,305.33 L492.73,314.58 L489.38,323.82 L486.01,333.07 L482.61,342.32 L479.17,351.57 L475.72,360.82 L472.23,370.06 L468.72,379.31 L465.17,388.56 L461.6,397.81 L458.01,407.05 L454.38,416.3" fill="none" stroke="#7D4E4E" stroke-width="1.0"/>
<polygon points="577.7,42.1 581.42,44.25 581.42,48.55 577.7,50.7 573.97,48.55 573.97,44.25" fill="#7D4E4E"/>
<polygon points="575.16,51.35 578.88,53.5 578.88,57.8 575.16,59.95 571.43,57.8 571.43,53.5" fill="#7D4E4E"/>
<polygon points="572.59,60.59 576.31,62.74 576.31,67.05 572.59,69.19 568.86,67.05 568.86,62.74" fill="#7D4E4E"/>
<polygon points="569.99,69.84 573.72,71.99 573.72,76.29 569.99,78.44 566.27,76.29 566.27,71.99" fill="#7D4E4E"/>
<polygon points="567.37,79.09 571.09,81.24 571.09,85.54 567.37,87.69 563.64,85.54 563.64,81.24" fill="#7D4E4E"/>
<polygon points="564.72,88.34 568.44,90.49 568.44,94.79 564.72,96.94 560.99,94.79 560.99,90.49" fill="#7D4E4E"/>
<polygon points="562.04,97.59 565.76,99.74 565.76,104.04 562.04,106.19 558.31,104.04 558.31,99.74" fill="#7D4E4E"/>
<polygon points="559.33,106.83 563.05,108.98 563.05,113.28 559.33,115.43 555.61,113.28 555.61,108.98" fill="#7D4E4E"/>
<polygon points="556.6,116.08 560.32,118.23 560.32,122.53 556.6,124.68 552.87,122.53 552.87,118.23" fill="#7D4E4E"/>
<polygon points="553.83,125.33 557.56,127.48 557.56,131.78 553.83,133.93 550.11,131.78 550.11,127.48" fill="#7D4E4E"/>
<polygon points="551.04,134.57 554.77,136.72 554.77,141.03 551.04,143.18 547.32,141.03 547.32,136.72" fill="#7D4E4E"/>
<polygon points="548.22,143.82 551.95,145.97 551.95,150.27 548.22,152.42 544.5,150.27 544.5,145.97" fill="#7D4E4E"/>
<polygon points="545.38,153.07 549.1,155.22 549.1,159.52 545.38,161.67 541.65,159.52 541.65,155.22" fill="#7D4E4E"/>
<polygon points="542.5,162.32 546.23,164.47 546.23,168.77 542.5,170.92 538.78,168.77 538.78,164.47" fill="#7D4E4E"/>
<polygon points="539.6,171.57 543.32,173.72 543.32,178.02 539.6,180.17 535.88,178.02 535.88,173.72" fill="#7D4E4E"/>
<polygon points="536.67,180.81 540.39,182.96 540.39,187.26 536.67,189.41 532.95,187.26 532.95,182.96" fill="#7D4E4E"/>
<polygon points="533.71,190.06 537.44,192.21 537.44,196.51 533.71,198.66 529.99,196.51 529.99,192.21" fill="#7D4E4E"/>
<polygon points="530.73,199.31 534.45,201.46 534.45,205.76 530.73,207.91 527,205.76 527,201.46" fill="#7D4E4E"/>
<polygon points="527.71,208.56 531.44,210.71 531.44,215.01 527.71,217.16 523.99,215.01 523.99,210.71" fill="#7D4E4E"/>
<polygon points="524.67,217.8 528.4,219.95 528.4,224.25 524.67,226.4 520.95,224.25 520.95,219.95" fill="#7D4E4E"/>
<polygon points="521.6,227.05 525.33,229.2 525.33,233.5 521.6,235.65 517.88,233.5 517.88,229.2" fill="#7D4E4E"/>
<polygon points="518.51,236.3 522.23,238.45 522.23,242.75 518.51,244.9 514.78,242.75 514.78,238.45" fill="#7D4E4E"/>
<polygon points="515.38,245.55 519.11,247.7 519.11,252 515.38,254.15 511.66,252 511.66,247.7" fill="#7D4E4E"/>
<polygon points="512.23,254.79 515.95,256.94 515.95,261.24 512.23,263.39 508.51,261.24 508.51,256.94" fill="#7D4E4E"/>
<polygon points="509.05,264.04 512.77,266.19 512.77,270.49 509.05,272.64 505.33,270.49 505.33,266.19" fill="#7D4E4E"/>
<polygon points="505.84,273.29 509.57,275.44 509.57,279.74 505.84,281.89 502.12,279.74 502.12,275.44" fill="#7D4E4E"/>
<polygon points="502.61,282.54 506.33,284.69 506.33,288.99 502.61,291.14 498.88,288.99 498.88,284.69" fill="#7D4E4E"/>
<polygon points="499.34,291.78 503.07,293.93 503.07,298.23 499.34,300.38 495.62,298.23 495.62,293.93" fill="#7D4E4E"/>
<polygon points="496.05,301.03 499.77,303.18 499.77,307.48 496.05,309.63 492.33,307.48 492.33,303.18" fill="#7D4E4E"/>
<polygon points="492.73,310.28 496.45,312.43 496.45,316.73 492.73,318.88 489.01,316.73 489.01,312.43" fill="#7D4E4E"/>
<polygon points="489.38,319.52 493.11,321.68 493.11,325.97 489.38,328.12 485.66,325.97 485.66,321.68" fill="#7D4E4E"/>
<polygon points="486.01,328.77 489.73,330.92 489.73,335.22 486.01,337.37 482.28,335.22 482.28,330.92" fill="#7D4E4E"/>
<polygon points="482.61,338.02 486.33,340.17 486.33,344.47 482.61,346.62 478.88,344.47 478.88,340.17" fill="#7D4E4E"/>
<polygon points="479.17,347.27 482.9,349.42 482.9,353.72 479.17,355.87 475.45,353.72 475.45,349.42" fill="#7D4E4E"/>
<polygon points="475.72,356.52 479.44,358.67 479.44,362.97 475.72,365.12 471.99,362.97 471.99,358.67" fill="#7D4E4E"/>
<polygon points="472.23,365.76 475.95,367.91 475.95,372.21 472.23,374.36 468.51,372.21 468.51,367.91" fill="#7D4E4E"/>
<polygon points="468.72,375.01 472.44,377.16 472.44,381.46 468.72,383.61 464.99,381.46 464.99,377.16" fill="#7D4E4E"/>
<polygon points="465.17,384.26 468.9,386.41 468.9,390.71 465.17,392.86 461.45,390.71 461.45,386.41" fill="#7D4E4E"/>
<polygon points="461.6,393.5 465.33,395.66 465.33,399.95 461.6,402.11 457.88,399.95 457.88,395.66" fill="#7D4E4E"/>
<polygon points="458.01,402.75 461.73,404.9 461.73,409.2 458.01,411.35 454.28,409.2 454.28,404.9" fill="#7D4E4E"/>
<polygon points="454.38,412 458.1,414.15 458.1,418.45 454.38,420.6 450.66,418.45 450.66,414.15" fill="#7D4E4E"/>
<path d="M577.25,46.4 L574.29,55.65 L571.32,64.89 L568.32,74.14 L565.3,83.39 L562.26,92.64 L559.21,101.89 L556.13,111.13 L553.04,120.38 L549.92,129.63 L546.78,138.88 L543.63,148.12 L540.45,157.37 L537.26,166.62 L534.04,175.87 L530.81,185.11 L527.56,194.36 L524.28,203.61 L520.99,212.86 L517.68,222.1 L514.34,231.35 L510.99,240.6 L507.62,249.85 L504.23,259.09 L500.82,268.34 L497.39,277.59 L493.94,286.84 L490.47,296.08 L486.98,305.33 L483.47,314.58 L479.94,323.82 L476.39,333.07 L472.82,342.32 L469.23,351.57 L465.62,360.82 L461.99,370.06 L458.35,379.31 L454.68,388.56 L450.99,397.81 L447.28,407.05 L443.56,416.3" fill="none" stroke="#8E8E00" stroke-width="1.0"/>
<polygon points="577.25,41.7 578.6,44.54 581.72,44.95 579.44,47.11 580.02,50.2 577.25,48.7 574.49,50.2 575.07,47.11 572.78,44.95 575.9,44.54" fill="#8E8E00"/>
<polygon points="574.29,50.95 575.65,53.79 578.76,54.2 576.48,56.36 577.06,59.45 574.29,57.95 571.53,59.45 572.11,56.36 569.82,54.2 572.94,53.79" fill="#8E8E00"/>
<polygon points="571.32,60.19 572.67,63.03 575.79,63.44 573.5,65.61 574.08,68.7 571.32,67.19 568.55,68.7 569.13,65.61 566.85,63.44 569.96,63.03" fill="#8E8E00"/>
<polygon points="568.32,69.44 569.67,72.28 572.79,72.69 570.51,74.85 571.08,77.94 568.32,76.44 565.56,77.94 566.13,74.85 563.85,72.69 566.97,72.28" fill="#8E8E00"/>
<polygon points="565.3,78.69 566.65,81.53 569.77,81.94 567.49,84.1 568.06,87.19 565.3,85.69 562.54,87.19 563.11,84.1 560.83,81.94 563.95,81.53" fill="#8E8E00"/>
<polygon points="562.26,87.94 563.62,90.78 566.73,91.19 564.45,93.35 565.03,96.44 562.26,94.94 559.5,96.44 560.08,93.35 557.79,91.19 560.91,90.78" fill="#8E8E00"/>
<polygon points="559.21,97.19 560.56,100.02 563.68,100.43 561.4,102.6 561.97,105.69 559.21,104.19 556.45,105.69 557.02,102.6 554.74,100.43 557.86,100.02" fill="#8E8E00"/>
<polygon points="556.13,106.43 557.48,109.27 560.6,109.68 558.32,111.84 558.89,114.93 556.13,113.43 553.37,114.93 553.94,111.84 551.66,109.68 554.78,109.27" fill="#8E8E00"/>
<polygon points="553.04,115.68 554.39,118.52 557.51,118.93 555.22,121.09 555.8,124.18 553.04,122.68 550.27,124.18 550.85,121.09 548.57,118.93 551.68,118.52" fill="#8E8E00"/>
<polygon points="549.92,124.93 551.27,127.77 554.39,128.18 552.11,130.34 552.68,133.43 549.92,131.93 547.16,133.43 547.73,130.34 545.45,128.18 548.57,127.77" fill="#8E8E00"/>
<polygon points="546.78,134.18 548.14,137.01 551.25,137.42 548.97,139.59 549.55,142.68 546.78,141.18 544.02,142.68 544.6,139.59 542.31,137.42 545.43,137.01" fill="#8E8E00"/>
<polygon points="543.63,143.42 544.98,146.26 548.1,146.67 545.82,148.83 546.39,151.92 543.63,150.42 540.87,151.92 541.44,148.83 539.16,146.67 542.28,146.26" fill="#8E8E00"/>
<polygon points="540.45,152.67 541.81,155.51 544.92,155.92 542.64,158.08 543.22,161.17 540.45,159.67 537.69,161.17 538.27,158.08 535.98,155.92 539.1,155.51" fill="#8E8E00"/>
<polygon points="537.26,161.92 538.61,164.76 541.73,165.17 539.45,167.33 540.02,170.42 537.26,168.92 534.5,170.42 535.07,167.33 532.79,165.17 535.91,164.76" fill="#8E8E00"/>
<polygon points="534.04,171.17 535.4,174 538.51,174.41 536.23,176.58 536.81,179.67 534.04,178.17 531.28,179.67 531.86,176.58 529.57,174.41 532.69,174" fill="#8E8E00"/>
<polygon points="530.81,180.41 532.16,183.25 535.28,183.66 533,185.82 533.57,188.91 530.81,187.41 528.05,188.91 528.62,185.82 526.34,183.66 529.46,183.25" fill="#8E8E00"/>
<polygon points="527.56,189.66 528.91,192.5 532.03,192.91 529.74,195.07 530.32,198.16 527.56,196.66 524.79,198.16 525.37,195.07 523.09,192.91 526.2,192.5" fill="#8E8E00"/>
<polygon points="524.28,198.91 525.64,201.75 528.75,202.16 526.47,204.32 527.05,207.41 524.28,205.91 521.52,207.41 522.1,204.32 519.81,202.16 522.93,201.75" fill="#8E8E00"/>
<polygon points="520.99,208.16 522.34,210.99 525.46,211.4 523.18,213.57 523.75,216.66 520.99,215.16 518.23,216.66 518.8,213.57 516.52,211.4 519.64,210.99" fill="#8E8E00"/>
<polygon points="517.68,217.4 519.03,220.24 522.15,220.65 519.86,222.81 520.44,225.9 517.68,224.4 514.91,225.9 515.49,222.81 513.21,220.65 516.33,220.24" fill="#8E8E00"/>
<polygon points="514.34,226.65 515.7,229.49 518.81,229.9 516.53,232.06 517.11,235.15 514.34,233.65 511.58,235.15 512.16,232.06 509.87,229.9 512.99,229.49" fill="#8E8E00"/>
<polygon points="510.99,235.9 512.34,238.74 515.46,239.15 513.18,241.31 513.76,244.4 510.99,242.9 508.23,244.4 508.81,241.31 506.52,239.15 509.64,238.74" fill="#8E8E00"/>
<polygon points="507.62,245.15 508.97,247.98 512.09,248.39 509.81,250.56 510.38,253.65 507.62,252.15 504.86,253.65 505.43,250.56 503.15,248.39 506.27,247.98" fill="#8E8E00"/>
<polygon points="504.23,254.39 505.58,257.23 508.7,257.64 506.42,259.8 506.99,262.89 504.23,261.39 501.47,262.89 502.04,259.8 499.76,257.64 502.88,257.23" fill="#8E8E00"/>
<polygon points="500.82,263.64 502.17,266.48 505.29,266.89 503,269.05 503.58,272.14 500.82,270.64 498.05,272.14 498.63,269.05 496.35,266.89 499.47,266.48" fill="#8E8E00"/>
<polygon points="497.39,272.89 498.74,275.73 501.86,276.14 499.57,278.3 500.15,281.39 497.39,279.89 494.62,281.39 495.2,278.3 492.92,276.14 496.03,275.73" fill="#8E8E00"/>
<polygon points="493.94,282.14 495.29,284.97 498.41,285.38 496.12,287.55 496.7,290.64 493.94,289.14 491.17,290.64 491.75,287.55 489.47,285.38 492.58,284.97" fill="#8E8E00"/>
<polygon points="490.47,291.38 491.82,294.22 494.94,294.63 492.65,296.79 493.23,299.88 490.47,298.38 487.7,299.88 488.28,296.79 486,294.63 489.11,294.22" fill="#8E8E00"/>
<polygon points="486.98,300.63 488.33,303.47 491.45,303.88 489.16,306.04 489.74,309.13 486.98,307.63 484.21,309.13 484.79,306.04 482.51,303.88 485.62,303.47" fill="#8E8E00"/>
<polygon points="483.47,309.88 484.82,312.72 487.94,313.13 485.65,315.29 486.23,318.38 483.47,316.88 480.7,318.38 481.28,315.29 479,313.13 482.11,312.72" fill="#8E8E00"/>
<polygon points="479.94,319.12 481.29,321.96 484.41,322.37 482.12,324.54 482.7,327.63 479.94,326.12 477.17,327.63 477.75,324.54 475.47,322.37 478.58,321.96" fill="#8E8E00"/>
<polygon points="476.39,328.37 477.74,331.21 480.86,331.62 478.57,333.78 479.15,336.87 476.39,335.37 473.62,336.87 474.2,333.78 471.92,331.62 475.03,331.21" fill="#8E8E00"/>
<polygon points="472.82,337.62 474.17,340.46 477.29,340.87 475.01,343.03 475.58,346.12 472.82,344.62 470.06,346.12 470.63,343.03 468.35,340.87 471.47,340.46" fill="#8E8E00"/>
<polygon points="469.23,346.87 470.58,349.71 473.7,350.12 471.42,352.28 471.99,355.37 469.23,353.87 466.47,355.37 467.04,352.28 464.76,350.12 467.88,349.71" fill="#8E8E00"/>
<polygon points="465.62,356.12 466.97,358.95 470.09,359.36 467.81,361.53 468.38,364.62 465.62,363.12 462.86,364.62 463.43,361.53 461.15,359.36 464.27,358.95" fill="#8E8E00"/>
<polygon points="461.99,365.36 463.34,368.2 466.46,368.61 464.18,370.77 464.76,373.86 461.99,372.36 459.23,373.86 459.81,370.77 457.52,368.61 460.64,368.2" fill="#8E8E00"/>
<polygon points="458.35,374.61 459.7,377.45 462.82,377.86 460.53,380.02 461.11,383.11 458.35,381.61 455.58,383.11 456.16,380.02 453.88,377.86 456.99,377.45" fill="#8E8E00"/>
<polygon points="454.68,383.86 456.03,386.7 459.15,387.11 456.87,389.27 457.44,392.36 454.68,390.86 451.92,392.36 452.49,389.27 450.21,387.11 453.33,386.7" fill="#8E8E00"/>
<polygon points="450.99,393.11 452.34,395.94 455.46,396.35 453.18,398.52 453.75,401.61 450.99,400.11 448.23,401.61 448.8,398.52 446.52,396.35 449.64,395.94" fill="#8E8E00"/>
<polygon points="447.28,402.35 448.64,405.19 451.75,405.6 449.47,407.76 450.05,410.85 447.28,409.35 444.52,410.85 445.1,407.76 442.81,405.6 445.93,405.19" fill="#8E8E00"/>
<polygon points="443.56,411.6 444.91,414.44 448.03,414.85 445.74,417.01 446.32,420.1 443.56,418.6 440.79,420.1 441.37,417.01 439.09,414.85 442.21,414.44" fill="#8E8E00"/>
<path d="M575.19,46.4 L572.04,55.65 L568.88,64.89 L565.7,74.14 L562.51,83.39 L559.29,92.64 L556.07,101.89 L552.83,111.13 L549.57,120.38 L546.29,129.63 L543,138.88 L539.7,148.12 L536.38,157.37 L533.04,166.62 L529.68,175.87 L526.32,185.11 L522.93,194.36 L519.53,203.61 L516.11,212.86 L512.68,222.1 L509.23,231.35 L505.77,240.6 L502.29,249.85 L498.79,259.09 L495.28,268.34 L491.75,277.59 L488.21,286.84 L484.65,296.08 L481.08,305.33 L477.48,314.58 L473.88,323.82 L470.26,333.07 L466.62,342.32 L462.96,351.57 L459.29,360.82 L455.61,370.06 L451.91,379.31 L448.19,388.56 L444.45,397.81 L440.71,407.05 L436.94,416.3" fill="none" stroke="#FB6501" stroke-width="1.20"/>
<path d="M573.85,46.4 L570.29,55.65 L566.73,64.89 L563.18,74.14 L559.62,83.39 L556.07,92.64 L552.51,101.89 L548.96,111.13 L545.41,120.38 L541.85,129.63 L538.3,138.88 L534.76,148.12 L531.21,157.37 L527.66,166.62 L524.11,175.87 L520.57,185.11 L517.02,194.36 L513.48,203.61 L509.94,212.86 L506.4,222.1 L502.86,231.35 L499.32,240.6 L495.78,249.85 L492.24,259.09 L488.7,268.34 L485.17,277.59 L481.63,286.84 L478.1,296.08 L474.57,305.33 L471.03,314.58 L467.5,323.82 L463.97,333.07 L460.44,342.32 L456.92,351.57 L453.39,360.82 L449.86,370.06 L446.34,379.31 L442.81,388.56 L439.29,397.81 L435.77,407.05 L432.25,416.3" fill="none" stroke="#6699CC" stroke-width="1.0" stroke-dasharray="5.5 7.07" stroke-dashoffset="-2.1"/>
</g>
<rect x="398.5" y="46.4" width="282.1" height="369.90000000000003" fill="none" stroke="#000" stroke-width="1.2"/>
<line x1="454.92" y1="46.4" x2="454.92" y2="51.8" stroke="#000" stroke-width="1.2"/>
<line x1="511.34" y1="46.4" x2="511.34" y2="51.8" stroke="#000" stroke-width="1.2"/>
<line x1="567.76" y1="46.4" x2="567.76" y2="51.8" stroke="#000" stroke-width="1.2"/>
<line x1="624.18" y1="46.4" x2="624.18" y2="51.8" stroke="#000" stroke-width="1.2"/>
<line x1="398.5" y1="120.38" x2="403.9" y2="120.38" stroke="#000" stroke-width="1.2"/>
<line x1="398.5" y1="194.36" x2="403.9" y2="194.36" stroke="#000" stroke-width="1.2"/>
<line x1="398.5" y1="268.34" x2="403.9" y2="268.34" stroke="#000" stroke-width="1.2"/>
<line x1="398.5" y1="342.32" x2="403.9" y2="342.32" stroke="#000" stroke-width="1.2"/>
<clipPath id="cc"><rect x="228.2" y="501.1" width="264.7" height="347.0"/></clipPath>
<g clip-path="url(#cc)">
<path d="M228.7,501.1 L231.8,509.78 L234.96,518.45 L238.16,527.12 L241.42,535.8 L244.72,544.48 L248.07,553.15 L251.48,561.83 L254.93,570.5 L258.44,579.18 L261.99,587.85 L265.6,596.53 L269.25,605.2 L272.96,613.88 L276.72,622.55 L280.52,631.23 L284.38,639.9 L288.29,648.58 L292.25,657.25 L296.26,665.93 L300.32,674.6 L304.43,683.28 L308.59,691.95 L312.81,700.62 L317.07,709.3 L321.39,717.98 L325.75,726.65 L330.17,735.33 L334.64,744 L339.15,752.68 L343.72,761.35 L348.35,770.03 L353.02,778.7 L357.74,787.38 L362.52,796.05 L367.34,804.73 L372.22,813.4 L377.15,822.08 L382.13,830.75 L387.16,839.43 L392.25,848.1" fill="none" stroke="#515151" stroke-width="1.0"/>
<rect x="226.25" y="498.65" width="4.9" height="4.9" fill="#515151"/>
<rect x="229.35" y="507.32" width="4.9" height="4.9" fill="#515151"/>
<rect x="232.51" y="516" width="4.9" height="4.9" fill="#515151"/>
<rect x="235.71" y="524.67" width="4.9" height="4.9" fill="#515151"/>
<rect x="238.96" y="533.35" width="4.9" height="4.9" fill="#515151"/>
<rect x="242.27" y="542.02" width="4.9" height="4.9" fill="#515151"/>
<rect x="245.62" y="550.7" width="4.9" height="4.9" fill="#515151"/>
<rect x="249.03" y="559.37" width="4.9" height="4.9" fill="#515151"/>
<rect x="252.48" y="568.05" width="4.9" height="4.9" fill="#515151"/>
<rect x="255.99" y="576.72" width="4.9" height="4.9" fill="#515151"/>
<rect x="259.54" y="585.4" width="4.9" height="4.9" fill="#515151"/>
<rect x="263.15" y="594.07" width="4.9" height="4.9" fill="#515151"/>
<rect x="266.8" y="602.75" width="4.9" height="4.9" fill="#515151"/>
<rect x="270.51" y="611.42" width="4.9" height="4.9" fill="#515151"/>
<rect x="274.27" y="620.1" width="4.9" height="4.9" fill="#515151"/>
<rect x="278.07" y="628.77" width="4.9" height="4.9" fill="#515151"/>
<rect x="281.93" y="637.45" width="4.9" height="4.9" fill="#515151"/>
<rect x="285.84" y="646.12" width="4.9" height="4.9" fill="#515151"/>
<rect x="289.8" y="654.8" width="4.9" height="4.9" fill="#515151"/>
<rect x="293.81" y="663.47" width="4.9" height="4.9" fill="#515151"/>
<rect x="297.87" y="672.15" width="4.9" height="4.9" fill="#515151"/>
<rect x="301.98" y="680.82" width="4.9" height="4.9" fill="#515151"/>
<rect x="306.14" y="689.5" width="4.9" height="4.9" fill="#515151"/>
<rect x="310.36" y="698.17" width="4.9" height="4.9" fill="#515151"/>
<rect x="314.62" y="706.85" width="4.9" height="4.9" fill="#515151"/>
<rect x="318.93" y="715.52" width="4.9" height="4.9" fill="#515151"/>
<rect x="323.3" y="724.2" width="4.9" height="4.9" fill="#515151"/>
<rect x="327.72" y="732.87" width="4.9" height="4.9" fill="#515151"/>
<rect x="332.18" y="741.55" width="4.9" height="4.9" fill="#515151"/>
<rect x="336.7" y="750.22" width="4.9" height="4.9" fill="#515151"/>
<rect x="341.27" y="758.9" width="4.9" height="4.9" fill="#515151"/>
<rect x="345.89" y="767.57" width="4.9" height="4.9" fill="#515151"/>
<rect x="350.57" y="776.25" width="4.9" height="4.9" fill="#515151"/>
<rect x="355.29" y="784.92" width="4.9" height="4.9" fill="#515151"/>
<rect x="360.07" y="793.6" width="4.9" height="4.9" fill="#515151"/>
<rect x="364.89" y="802.27" width="4.9" height="4.9" fill="#515151"/>
<rect x="369.77" y="810.95" width="4.9" height="4.9" fill="#515151"/>
<rect x="374.7" y="819.62" width="4.9" height="4.9" fill="#515151"/>
<rect x="379.68" y="828.3" width="4.9" height="4.9" fill="#515151"/>
<rect x="384.71" y="836.97" width="4.9" height="4.9" fill="#515151"/>
<rect x="389.8" y="845.65" width="4.9" height="4.9" fill="#515151"/>
<path d="M228.7,501.1 L231.85,509.78 L235.05,518.45 L238.3,527.12 L241.61,535.8 L244.97,544.48 L248.38,553.15 L251.85,561.83 L255.38,570.5 L258.95,579.18 L262.59,587.85 L266.27,596.53 L270.01,605.2 L273.81,613.88 L277.66,622.55 L281.57,631.23 L285.53,639.9 L289.54,648.58 L293.62,657.25 L297.74,665.93 L301.93,674.6 L306.17,683.28 L310.46,691.95 L314.81,700.62 L319.22,709.3 L323.69,717.98 L328.21,726.65 L332.79,735.33 L337.42,744 L342.12,752.68 L346.87,761.35 L351.67,770.03 L356.54,778.7 L361.46,787.38 L366.44,796.05 L371.48,804.73 L376.57,813.4 L381.73,822.08 L386.94,830.75 L392.21,839.43 L397.54,848.1" fill="none" stroke="#F14040" stroke-width="1.0"/>
<circle cx="228.7" cy="501.1" r="2.88" fill="#F14040"/>
<circle cx="231.85" cy="509.78" r="2.88" fill="#F14040"/>
<circle cx="235.05" cy="518.45" r="2.88" fill="#F14040"/>
<circle cx="238.3" cy="527.12" r="2.88" fill="#F14040"/>
<circle cx="241.61" cy="535.8" r="2.88" fill="#F14040"/>
<circle cx="244.97" cy="544.48" r="2.88" fill="#F14040"/>
<circle cx="248.38" cy="553.15" r="2.88" fill="#F14040"/>
<circle cx="251.85" cy="561.83" r="2.88" fill="#F14040"/>
<circle cx="255.38" cy="570.5" r="2.88" fill="#F14040"/>
<circle cx="258.95" cy="579.18" r="2.88" fill="#F14040"/>
<circle cx="262.59" cy="587.85" r="2.88" fill="#F14040"/>
<circle cx="266.27" cy="596.53" r="2.88" fill="#F14040"/>
<circle cx="270.01" cy="605.2" r="2.88" fill="#F14040"/>
<circle cx="273.81" cy="613.88" r="2.88" fill="#F14040"/>
<circle cx="277.66" cy="622.55" r="2.88" fill="#F14040"/>
<circle cx="281.57" cy="631.23" r="2.88" fill="#F14040"/>
<circle cx="285.53" cy="639.9" r="2.88" fill="#F14040"/>
<circle cx="289.54" cy="648.58" r="2.88" fill="#F14040"/>
<circle cx="293.62" cy="657.25" r="2.88" fill="#F14040"/>
<circle cx="297.74" cy="665.93" r="2.88" fill="#F14040"/>
<circle cx="301.93" cy="674.6" r="2.88" fill="#F14040"/>
<circle cx="306.17" cy="683.28" r="2.88" fill="#F14040"/>
<circle cx="310.46" cy="691.95" r="2.88" fill="#F14040"/>
<circle cx="314.81" cy="700.62" r="2.88" fill="#F14040"/>
<circle cx="319.22" cy="709.3" r="2.88" fill="#F14040"/>
<circle cx="323.69" cy="717.98" r="2.88" fill="#F14040"/>
<circle cx="328.21" cy="726.65" r="2.88" fill="#F14040"/>
<circle cx="332.79" cy="735.33" r="2.88" fill="#F14040"/>
<circle cx="337.42" cy="744" r="2.88" fill="#F14040"/>
<circle cx="342.12" cy="752.68" r="2.88" fill="#F14040"/>
<circle cx="346.87" cy="761.35" r="2.88" fill="#F14040"/>
<circle cx="351.67" cy="770.03" r="2.88" fill="#F14040"/>
<circle cx="356.54" cy="778.7" r="2.88" fill="#F14040"/>
<circle cx="361.46" cy="787.38" r="2.88" fill="#F14040"/>
<circle cx="366.44" cy="796.05" r="2.88" fill="#F14040"/>
<circle cx="371.48" cy="804.73" r="2.88" fill="#F14040"/>
<circle cx="376.57" cy="813.4" r="2.88" fill="#F14040"/>
<circle cx="381.73" cy="822.08" r="2.88" fill="#F14040"/>
<circle cx="386.94" cy="830.75" r="2.88" fill="#F14040"/>
<circle cx="392.21" cy="839.43" r="2.88" fill="#F14040"/>
<circle cx="397.54" cy="848.1" r="2.88" fill="#F14040"/>
<path d="M228.7,501.1 L231.88,509.78 L235.12,518.45 L238.41,527.12 L241.77,535.8 L245.18,544.48 L248.64,553.15 L252.17,561.83 L255.75,570.5 L259.39,579.18 L263.09,587.85 L266.85,596.53 L270.67,605.2 L274.55,613.88 L278.49,622.55 L282.49,631.23 L286.55,639.9 L290.67,648.58 L294.85,657.25 L299.09,665.93 L303.39,674.6 L307.76,683.28 L312.19,691.95 L316.68,700.62 L321.23,709.3 L325.85,717.98 L330.53,726.65 L335.27,735.33 L340.08,744 L344.95,752.68 L349.88,761.35 L354.88,770.03 L359.95,778.7 L365.08,787.38 L370.27,796.05 L375.53,804.73 L380.86,813.4 L386.25,822.08 L391.71,830.75 L397.24,839.43 L402.83,848.1" fill="none" stroke="#1A6FDF" stroke-width="1.0"/>
<polygon points="228.7,496.74 232.66,503.28 224.74,503.28" fill="#1A6FDF"/>
<polygon points="231.88,505.42 235.84,511.95 227.93,511.95" fill="#1A6FDF"/>
<polygon points="235.12,514.09 239.08,520.63 231.16,520.63" fill="#1A6FDF"/>
<polygon points="238.41,522.77 242.37,529.3 234.46,529.3" fill="#1A6FDF"/>
<polygon points="241.77,531.44 245.72,537.98 237.81,537.98" fill="#1A6FDF"/>
<polygon points="245.18,540.12 249.13,546.65 241.22,546.65" fill="#1A6FDF"/>
<polygon points="248.64,548.79 252.6,555.33 244.69,555.33" fill="#1A6FDF"/>
<polygon points="252.17,557.47 256.12,564 248.21,564" fill="#1A6FDF"/>
<polygon points="255.75,566.14 259.71,572.68 251.79,572.68" fill="#1A6FDF"/>
<polygon points="259.39,574.82 263.35,581.35 255.44,581.35" fill="#1A6FDF"/>
<polygon points="263.09,583.49 267.05,590.03 259.14,590.03" fill="#1A6FDF"/>
<polygon points="266.85,592.17 270.81,598.7 262.9,598.7" fill="#1A6FDF"/>
<polygon points="270.67,600.84 274.63,607.38 266.72,607.38" fill="#1A6FDF"/>
<polygon points="274.55,609.52 278.51,616.05 270.59,616.05" fill="#1A6FDF"/>
<polygon points="278.49,618.19 282.45,624.73 274.53,624.73" fill="#1A6FDF"/>
<polygon points="282.49,626.87 286.44,633.4 278.53,633.4" fill="#1A6FDF"/>
<polygon points="286.55,635.54 290.5,642.08 282.59,642.08" fill="#1A6FDF"/>
<polygon points="290.67,644.22 294.62,650.75 286.71,650.75" fill="#1A6FDF"/>
<polygon points="294.85,652.89 298.8,659.43 290.89,659.43" fill="#1A6FDF"/>
<polygon points="299.09,661.57 303.05,668.1 295.13,668.1" fill="#1A6FDF"/>
<polygon points="303.39,670.24 307.35,676.78 299.44,676.78" fill="#1A6FDF"/>
<polygon points="307.76,678.92 311.72,685.45 303.8,685.45" fill="#1A6FDF"/>
<polygon points="312.19,687.59 316.14,694.13 308.23,694.13" fill="#1A6FDF"/>
<polygon points="316.68,696.27 320.63,702.8 312.72,702.8" fill="#1A6FDF"/>
<polygon points="321.23,704.94 325.19,711.48 317.28,711.48" fill="#1A6FDF"/>
<polygon points="325.85,713.62 329.8,720.15 321.89,720.15" fill="#1A6FDF"/>
<polygon points="330.53,722.29 334.48,728.83 326.57,728.83" fill="#1A6FDF"/>
<polygon points="335.27,730.97 339.23,737.5 331.31,737.5" fill="#1A6FDF"/>
<polygon points="340.08,739.64 344.03,746.18 336.12,746.18" fill="#1A6FDF"/>
<polygon points="344.95,748.32 348.9,754.85 340.99,754.85" fill="#1A6FDF"/>
<polygon points="349.88,756.99 353.84,763.53 345.93,763.53" fill="#1A6FDF"/>
<polygon points="354.88,765.67 358.84,772.2 350.93,772.2" fill="#1A6FDF"/>
<polygon points="359.95,774.34 363.9,780.88 355.99,780.88" fill="#1A6FDF"/>
<polygon points="365.08,783.02 369.03,789.55 361.12,789.55" fill="#1A6FDF"/>
<polygon points="370.27,791.69 374.23,798.23 366.32,798.23" fill="#1A6FDF"/>
<polygon points="375.53,800.37 379.49,806.9 371.58,806.9" fill="#1A6FDF"/>
<polygon points="380.86,809.04 384.82,815.58 376.9,815.58" fill="#1A6FDF"/>
<polygon points="386.25,817.72 390.21,824.25 382.3,824.25" fill="#1A6FDF"/>
<polygon points="391.71,826.39 395.67,832.93 387.76,832.93" fill="#1A6FDF"/>
<polygon points="397.24,835.07 401.2,841.6 393.28,841.6" fill="#1A6FDF"/>
<polygon points="402.83,843.74 406.79,850.28 398.88,850.28" fill="#1A6FDF"/>
<path d="M228.7,501.1 L231.91,509.78 L235.19,518.45 L238.52,527.12 L241.92,535.8 L245.38,544.48 L248.9,553.15 L252.49,561.83 L256.14,570.5 L259.85,579.18 L263.62,587.85 L267.46,596.53 L271.37,605.2 L275.34,613.88 L279.37,622.55 L283.47,631.23 L287.64,639.9 L291.88,648.58 L296.18,657.25 L300.55,665.93 L304.99,674.6 L309.49,683.28 L314.07,691.95 L318.72,700.62 L323.43,709.3 L328.22,717.98 L333.07,726.65 L338,735.33 L343,744 L348.07,752.68 L353.21,761.35 L358.42,770.03 L363.71,778.7 L369.07,787.38 L374.51,796.05 L380.02,804.73 L385.6,813.4 L391.26,822.08 L397,830.75 L402.81,839.43 L408.7,848.1" fill="none" stroke="#37AD6B" stroke-width="1.0"/>
<polygon points="228.7,505.46 232.66,498.92 224.74,498.92" fill="#37AD6B"/>
<polygon points="231.91,514.13 235.87,507.6 227.96,507.6" fill="#37AD6B"/>
<polygon points="235.19,522.81 239.14,516.27 231.23,516.27" fill="#37AD6B"/>
<polygon points="238.52,531.48 242.48,524.95 234.57,524.95" fill="#37AD6B"/>
<polygon points="241.92,540.16 245.88,533.62 237.97,533.62" fill="#37AD6B"/>
<polygon points="245.38,548.83 249.34,542.3 241.43,542.3" fill="#37AD6B"/>
<polygon points="248.9,557.51 252.86,550.97 244.95,550.97" fill="#37AD6B"/>
<polygon points="252.49,566.18 256.44,559.65 248.53,559.65" fill="#37AD6B"/>
<polygon points="256.14,574.86 260.09,568.32 252.18,568.32" fill="#37AD6B"/>
<polygon points="259.85,583.53 263.8,577 255.89,577" fill="#37AD6B"/>
<polygon points="263.62,592.21 267.58,585.67 259.67,585.67" fill="#37AD6B"/>
<polygon points="267.46,600.88 271.42,594.35 263.51,594.35" fill="#37AD6B"/>
<polygon points="271.37,609.56 275.32,603.02 267.41,603.02" fill="#37AD6B"/>
<polygon points="275.34,618.23 279.29,611.7 271.38,611.7" fill="#37AD6B"/>
<polygon points="279.37,626.91 283.33,620.37 275.42,620.37" fill="#37AD6B"/>
<polygon points="283.47,635.58 287.43,629.05 279.52,629.05" fill="#37AD6B"/>
<polygon points="287.64,644.26 291.6,637.72 283.69,637.72" fill="#37AD6B"/>
<polygon points="291.88,652.93 295.83,646.4 287.92,646.4" fill="#37AD6B"/>
<polygon points="296.18,661.61 300.14,655.07 292.22,655.07" fill="#37AD6B"/>
<polygon points="300.55,670.28 304.51,663.75 296.59,663.75" fill="#37AD6B"/>
<polygon points="304.99,678.96 308.94,672.42 301.03,672.42" fill="#37AD6B"/>
<polygon points="309.49,687.63 313.45,681.1 305.54,681.1" fill="#37AD6B"/>
<polygon points="314.07,696.31 318.03,689.77 310.11,689.77" fill="#37AD6B"/>
<polygon points="318.72,704.98 322.67,698.45 314.76,698.45" fill="#37AD6B"/>
<polygon points="323.43,713.66 327.39,707.12 319.47,707.12" fill="#37AD6B"/>
<polygon points="328.22,722.33 332.17,715.8 324.26,715.8" fill="#37AD6B"/>
<polygon points="333.07,731.01 337.03,724.47 329.12,724.47" fill="#37AD6B"/>
<polygon points="338,739.68 341.95,733.15 334.04,733.15" fill="#37AD6B"/>
<polygon points="343,748.36 346.95,741.82 339.04,741.82" fill="#37AD6B"/>
<polygon points="348.07,757.03 352.02,750.5 344.11,750.5" fill="#37AD6B"/>
<polygon points="353.21,765.71 357.17,759.17 349.25,759.17" fill="#37AD6B"/>
<polygon points="358.42,774.38 362.38,767.85 354.47,767.85" fill="#37AD6B"/>
<polygon points="363.71,783.06 367.67,776.52 359.76,776.52" fill="#37AD6B"/>
<polygon points="369.07,791.73 373.03,785.2 365.12,785.2" fill="#37AD6B"/>
<polygon points="374.51,800.41 378.46,793.87 370.55,793.87" fill="#37AD6B"/>
<polygon points="380.02,809.08 383.97,802.55 376.06,802.55" fill="#37AD6B"/>
<polygon points="385.6,817.76 389.56,811.22 381.65,811.22" fill="#37AD6B"/>
<polygon points="391.26,826.43 395.22,819.9 387.31,819.9" fill="#37AD6B"/>
<polygon points="397,835.11 400.95,828.57 393.04,828.57" fill="#37AD6B"/>
<polygon points="402.81,843.78 406.76,837.25 398.85,837.25" fill="#37AD6B"/>
<polygon points="408.7,852.46 412.65,845.92 404.74,845.92" fill="#37AD6B"/>
<path d="M228.7,501.1 L231.93,509.78 L235.23,518.45 L238.59,527.12 L242.02,535.8 L245.52,544.48 L249.08,553.15 L252.71,561.83 L256.41,570.5 L260.18,579.18 L264.01,587.85 L267.92,596.53 L271.9,605.2 L275.95,613.88 L280.07,622.55 L284.26,631.23 L288.52,639.9 L292.86,648.58 L297.27,657.25 L301.76,665.93 L306.32,674.6 L310.95,683.28 L315.66,691.95 L320.45,700.62 L325.31,709.3 L330.26,717.98 L335.27,726.65 L340.37,735.33 L345.55,744 L350.8,752.68 L356.14,761.35 L361.55,770.03 L367.05,778.7 L372.62,787.38 L378.28,796.05 L384.03,804.73 L389.85,813.4 L395.76,822.08 L401.75,830.75 L407.83,839.43 L413.99,848.1" fill="none" stroke="#B177DE" stroke-width="1.0"/>
<polygon points="228.7,497.36 232.44,501.1 228.7,504.84 224.96,501.1" fill="#B177DE"/>
<polygon points="231.93,506.03 235.67,509.78 231.93,513.52 228.19,509.78" fill="#B177DE"/>
<polygon points="235.23,514.71 238.97,518.45 235.23,522.19 231.49,518.45" fill="#B177DE"/>
<polygon points="238.59,523.38 242.33,527.12 238.59,530.87 234.85,527.12" fill="#B177DE"/>
<polygon points="242.02,532.06 245.76,535.8 242.02,539.54 238.28,535.8" fill="#B177DE"/>
<polygon points="245.52,540.73 249.26,544.48 245.52,548.22 241.78,544.48" fill="#B177DE"/>
<polygon points="249.08,549.41 252.82,553.15 249.08,556.89 245.34,553.15" fill="#B177DE"/>
<polygon points="252.71,558.08 256.45,561.83 252.71,565.57 248.97,561.83" fill="#B177DE"/>
<polygon points="256.41,566.76 260.15,570.5 256.41,574.24 252.67,570.5" fill="#B177DE"/>
<polygon points="260.18,575.43 263.92,579.18 260.18,582.92 256.44,579.18" fill="#B177DE"/>
<polygon points="264.01,584.11 267.76,587.85 264.01,591.59 260.27,587.85" fill="#B177DE"/>
<polygon points="267.92,592.78 271.66,596.53 267.92,600.27 264.18,596.53" fill="#B177DE"/>
<polygon points="271.9,601.46 275.64,605.2 271.9,608.94 268.16,605.2" fill="#B177DE"/>
<polygon points="275.95,610.13 279.69,613.88 275.95,617.62 272.21,613.88" fill="#B177DE"/>
<polygon points="280.07,618.81 283.81,622.55 280.07,626.29 276.33,622.55" fill="#B177DE"/>
<polygon points="284.26,627.48 288,631.23 284.26,634.97 280.52,631.23" fill="#B177DE"/>
<polygon points="288.52,636.16 292.27,639.9 288.52,643.64 284.78,639.9" fill="#B177DE"/>
<polygon points="292.86,644.83 296.6,648.58 292.86,652.32 289.12,648.58" fill="#B177DE"/>
<polygon points="297.27,653.51 301.01,657.25 297.27,660.99 293.53,657.25" fill="#B177DE"/>
<polygon points="301.76,662.18 305.5,665.93 301.76,669.67 298.02,665.93" fill="#B177DE"/>
<polygon points="306.32,670.86 310.06,674.6 306.32,678.34 302.58,674.6" fill="#B177DE"/>
<polygon points="310.95,679.53 314.69,683.28 310.95,687.02 307.21,683.28" fill="#B177DE"/>
<polygon points="315.66,688.21 319.41,691.95 315.66,695.69 311.92,691.95" fill="#B177DE"/>
<polygon points="320.45,696.88 324.19,700.62 320.45,704.37 316.71,700.62" fill="#B177DE"/>
<polygon points="325.31,705.56 329.06,709.3 325.31,713.04 321.57,709.3" fill="#B177DE"/>
<polygon points="330.26,714.23 334,717.98 330.26,721.72 326.51,717.98" fill="#B177DE"/>
<polygon points="335.27,722.91 339.01,726.65 335.27,730.39 331.53,726.65" fill="#B177DE"/>
<polygon points="340.37,731.58 344.11,735.33 340.37,739.07 336.63,735.33" fill="#B177DE"/>
<polygon points="345.55,740.26 349.29,744 345.55,747.74 341.81,744" fill="#B177DE"/>
<polygon points="350.8,748.93 354.54,752.68 350.8,756.42 347.06,752.68" fill="#B177DE"/>
<polygon points="356.14,757.61 359.88,761.35 356.14,765.09 352.39,761.35" fill="#B177DE"/>
<polygon points="361.55,766.28 365.29,770.03 361.55,773.77 357.81,770.03" fill="#B177DE"/>
<polygon points="367.05,774.96 370.79,778.7 367.05,782.44 363.31,778.7" fill="#B177DE"/>
<polygon points="372.62,783.63 376.37,787.38 372.62,791.12 368.88,787.38" fill="#B177DE"/>
<polygon points="378.28,792.31 382.02,796.05 378.28,799.79 374.54,796.05" fill="#B177DE"/>
<polygon points="384.03,800.98 387.77,804.73 384.03,808.47 380.28,804.73" fill="#B177DE"/>
<polygon points="389.85,809.66 393.59,813.4 389.85,817.14 386.11,813.4" fill="#B177DE"/>
<polygon points="395.76,818.33 399.5,822.08 395.76,825.82 392.02,822.08" fill="#B177DE"/>
<polygon points="401.75,827.01 405.49,830.75 401.75,834.49 398.01,830.75" fill="#B177DE"/>
<polygon points="407.83,835.68 411.57,839.43 407.83,843.17 404.09,839.43" fill="#B177DE"/>
<polygon points="413.99,844.36 417.73,848.1 413.99,851.84 410.25,848.1" fill="#B177DE"/>
<path d="M228.7,501.1 L231.96,509.78 L235.29,518.45 L238.69,527.12 L242.15,535.8 L245.69,544.48 L249.31,553.15 L252.99,561.83 L256.75,570.5 L260.58,579.18 L264.48,587.85 L268.47,596.53 L272.52,605.2 L276.66,613.88 L280.87,622.55 L285.16,631.23 L289.53,639.9 L293.98,648.58 L298.5,657.25 L303.11,665.93 L307.81,674.6 L312.58,683.28 L317.44,691.95 L322.38,700.62 L327.4,709.3 L332.51,717.98 L337.71,726.65 L342.99,735.33 L348.36,744 L353.82,752.68 L359.36,761.35 L365,770.03 L370.72,778.7 L376.54,787.38 L382.45,796.05 L388.45,804.73 L394.54,813.4 L400.72,822.08 L407,830.75 L413.38,839.43 L419.85,848.1" fill="none" stroke="#CC9900" stroke-width="1.0"/>
<polygon points="224.34,501.1 230.88,497.14 230.88,505.06" fill="#CC9900"/>
<polygon points="227.6,509.78 234.14,505.82 234.14,513.73" fill="#CC9900"/>
<polygon points="230.93,518.45 237.47,514.49 237.47,522.41" fill="#CC9900"/>
<polygon points="234.33,527.12 240.86,523.17 240.86,531.08" fill="#CC9900"/>
<polygon points="237.8,535.8 244.33,531.84 244.33,539.76" fill="#CC9900"/>
<polygon points="241.34,544.48 247.87,540.52 247.87,548.43" fill="#CC9900"/>
<polygon points="244.95,553.15 251.48,549.19 251.48,557.11" fill="#CC9900"/>
<polygon points="248.63,561.83 255.17,557.87 255.17,565.78" fill="#CC9900"/>
<polygon points="252.39,570.5 258.93,566.54 258.93,574.46" fill="#CC9900"/>
<polygon points="256.22,579.18 262.76,575.22 262.76,583.13" fill="#CC9900"/>
<polygon points="260.13,587.85 266.66,583.89 266.66,591.81" fill="#CC9900"/>
<polygon points="264.11,596.53 270.64,592.57 270.64,600.48" fill="#CC9900"/>
<polygon points="268.17,605.2 274.7,601.24 274.7,609.16" fill="#CC9900"/>
<polygon points="272.3,613.88 278.84,609.92 278.84,617.83" fill="#CC9900"/>
<polygon points="276.51,622.55 283.05,618.59 283.05,626.51" fill="#CC9900"/>
<polygon points="280.8,631.23 287.34,627.27 287.34,635.18" fill="#CC9900"/>
<polygon points="285.17,639.9 291.71,635.94 291.71,643.86" fill="#CC9900"/>
<polygon points="289.62,648.58 296.16,644.62 296.16,652.53" fill="#CC9900"/>
<polygon points="294.15,657.25 300.68,653.29 300.68,661.21" fill="#CC9900"/>
<polygon points="298.76,665.93 305.29,661.97 305.29,669.88" fill="#CC9900"/>
<polygon points="303.45,674.6 309.98,670.64 309.98,678.56" fill="#CC9900"/>
<polygon points="308.22,683.28 314.76,679.32 314.76,687.23" fill="#CC9900"/>
<polygon points="313.08,691.95 319.61,687.99 319.61,695.91" fill="#CC9900"/>
<polygon points="318.02,700.62 324.55,696.67 324.55,704.58" fill="#CC9900"/>
<polygon points="323.04,709.3 329.58,705.34 329.58,713.26" fill="#CC9900"/>
<polygon points="328.15,717.98 334.69,714.02 334.69,721.93" fill="#CC9900"/>
<polygon points="333.35,726.65 339.88,722.69 339.88,730.61" fill="#CC9900"/>
<polygon points="338.63,735.33 345.17,731.37 345.17,739.28" fill="#CC9900"/>
<polygon points="344,744 350.54,740.04 350.54,747.96" fill="#CC9900"/>
<polygon points="349.46,752.68 355.99,748.72 355.99,756.63" fill="#CC9900"/>
<polygon points="355,761.35 361.54,757.39 361.54,765.31" fill="#CC9900"/>
<polygon points="360.64,770.03 367.18,766.07 367.18,773.98" fill="#CC9900"/>
<polygon points="366.36,778.7 372.9,774.74 372.9,782.66" fill="#CC9900"/>
<polygon points="372.18,787.38 378.72,783.42 378.72,791.33" fill="#CC9900"/>
<polygon points="378.09,796.05 384.62,792.09 384.62,800.01" fill="#CC9900"/>
<polygon points="384.09,804.73 390.62,800.77 390.62,808.68" fill="#CC9900"/>
<polygon points="390.18,813.4 396.72,809.44 396.72,817.36" fill="#CC9900"/>
<polygon points="396.37,822.08 402.9,818.12 402.9,826.03" fill="#CC9900"/>
<polygon points="402.65,830.75 409.18,826.79 409.18,834.71" fill="#CC9900"/>
<polygon points="409.02,839.43 415.56,835.47 415.56,843.38" fill="#CC9900"/>
<polygon points="415.49,848.1 422.03,844.14 422.03,852.06" fill="#CC9900"/>
<path d="M228.7,501.1 L231.96,509.78 L235.29,518.45 L238.7,527.12 L242.19,535.8 L245.75,544.48 L249.4,553.15 L253.12,561.83 L256.92,570.5 L260.81,579.18 L264.78,587.85 L268.83,596.53 L272.97,605.2 L277.19,613.88 L281.49,622.55 L285.88,631.23 L290.36,639.9 L294.93,648.58 L299.59,657.25 L304.33,665.93 L309.17,674.6 L314.09,683.28 L319.11,691.95 L324.22,700.62 L329.43,709.3 L334.73,717.98 L340.12,726.65 L345.61,735.33 L351.2,744 L356.89,752.68 L362.67,761.35 L368.55,770.03 L374.53,778.7 L380.62,787.38 L386.8,796.05 L393.09,804.73 L399.48,813.4 L405.97,822.08 L412.57,830.75 L419.28,839.43 L426.09,848.1" fill="none" stroke="#00CBCC" stroke-width="1.0"/>
<polygon points="233.06,501.1 226.52,497.14 226.52,505.06" fill="#00CBCC"/>
<polygon points="236.31,509.78 229.78,505.82 229.78,513.73" fill="#00CBCC"/>
<polygon points="239.65,518.45 233.11,514.49 233.11,522.41" fill="#00CBCC"/>
<polygon points="243.06,527.12 236.52,523.17 236.52,531.08" fill="#00CBCC"/>
<polygon points="246.54,535.8 240.01,531.84 240.01,539.76" fill="#00CBCC"/>
<polygon points="250.11,544.48 243.57,540.52 243.57,548.43" fill="#00CBCC"/>
<polygon points="253.75,553.15 247.22,549.19 247.22,557.11" fill="#00CBCC"/>
<polygon points="257.48,561.83 250.94,557.87 250.94,565.78" fill="#00CBCC"/>
<polygon points="261.28,570.5 254.75,566.54 254.75,574.46" fill="#00CBCC"/>
<polygon points="265.17,579.18 258.63,575.22 258.63,583.13" fill="#00CBCC"/>
<polygon points="269.14,587.85 262.6,583.89 262.6,591.81" fill="#00CBCC"/>
<polygon points="273.19,596.53 266.65,592.57 266.65,600.48" fill="#00CBCC"/>
<polygon points="277.32,605.2 270.79,601.24 270.79,609.16" fill="#00CBCC"/>
<polygon points="281.54,613.88 275.01,609.92 275.01,617.83" fill="#00CBCC"/>
<polygon points="285.85,622.55 279.31,618.59 279.31,626.51" fill="#00CBCC"/>
<polygon points="290.24,631.23 283.7,627.27 283.7,635.18" fill="#00CBCC"/>
<polygon points="294.72,639.9 288.18,635.94 288.18,643.86" fill="#00CBCC"/>
<polygon points="299.29,648.58 292.75,644.62 292.75,652.53" fill="#00CBCC"/>
<polygon points="303.94,657.25 297.41,653.29 297.41,661.21" fill="#00CBCC"/>
<polygon points="308.69,665.93 302.15,661.97 302.15,669.88" fill="#00CBCC"/>
<polygon points="313.52,674.6 306.99,670.64 306.99,678.56" fill="#00CBCC"/>
<polygon points="318.45,683.28 311.91,679.32 311.91,687.23" fill="#00CBCC"/>
<polygon points="323.47,691.95 316.93,687.99 316.93,695.91" fill="#00CBCC"/>
<polygon points="328.58,700.62 322.04,696.67 322.04,704.58" fill="#00CBCC"/>
<polygon points="333.79,709.3 327.25,705.34 327.25,713.26" fill="#00CBCC"/>
<polygon points="339.09,717.98 332.55,714.02 332.55,721.93" fill="#00CBCC"/>
<polygon points="344.48,726.65 337.94,722.69 337.94,730.61" fill="#00CBCC"/>
<polygon points="349.97,735.33 343.43,731.37 343.43,739.28" fill="#00CBCC"/>
<polygon points="355.56,744 349.02,740.04 349.02,747.96" fill="#00CBCC"/>
<polygon points="361.24,752.68 354.71,748.72 354.71,756.63" fill="#00CBCC"/>
<polygon points="367.03,761.35 360.49,757.39 360.49,765.31" fill="#00CBCC"/>
<polygon points="372.91,770.03 366.37,766.07 366.37,773.98" fill="#00CBCC"/>
<polygon points="378.89,778.7 372.35,774.74 372.35,782.66" fill="#00CBCC"/>
<polygon points="384.97,787.38 378.44,783.42 378.44,791.33" fill="#00CBCC"/>
<polygon points="391.16,796.05 384.62,792.09 384.62,800.01" fill="#00CBCC"/>
<polygon points="397.45,804.73 390.91,800.77 390.91,808.68" fill="#00CBCC"/>
<polygon points="403.84,813.4 397.3,809.44 397.3,817.36" fill="#00CBCC"/>
<polygon points="410.33,822.08 403.8,818.12 403.8,826.03" fill="#00CBCC"/>
<polygon points="416.93,830.75 410.4,826.79 410.4,834.71" fill="#00CBCC"/>
<polygon points="423.64,839.43 417.1,835.47 417.1,843.38" fill="#00CBCC"/>
<polygon points="430.45,848.1 423.91,844.14 423.91,852.06" fill="#00CBCC"/>
<path d="M228.7,501.1 L232,509.78 L235.37,518.45 L238.83,527.12 L242.38,535.8 L246,544.48 L249.71,553.15 L253.51,561.83 L257.39,570.5 L261.36,579.18 L265.41,587.85 L269.56,596.53 L273.79,605.2 L278.12,613.88 L282.53,622.55 L287.04,631.23 L291.64,639.9 L296.34,648.58 L301.13,657.25 L306.02,665.93 L311,674.6 L316.08,683.28 L321.26,691.95 L326.54,700.62 L331.92,709.3 L337.4,717.98 L342.98,726.65 L348.67,735.33 L354.45,744 L360.35,752.68 L366.35,761.35 L372.45,770.03 L378.66,778.7 L384.98,787.38 L391.41,796.05 L397.95,804.73 L404.6,813.4 L411.37,822.08 L418.24,830.75 L425.23,839.43 L432.33,848.1" fill="none" stroke="#7D4E4E" stroke-width="1.0"/>
<polygon points="228.7,497.4 231.9,499.25 231.9,502.95 228.7,504.8 225.5,502.95 225.5,499.25" fill="#7D4E4E"/>
<polygon points="232,506.08 235.2,507.93 235.2,511.62 232,513.47 228.79,511.62 228.79,507.93" fill="#7D4E4E"/>
<polygon points="235.37,514.75 238.58,516.6 238.58,520.3 235.37,522.15 232.17,520.3 232.17,516.6" fill="#7D4E4E"/>
<polygon points="238.83,523.43 242.04,525.28 242.04,528.97 238.83,530.82 235.63,528.97 235.63,525.28" fill="#7D4E4E"/>
<polygon points="242.38,532.1 245.58,533.95 245.58,537.65 242.38,539.5 239.17,537.65 239.17,533.95" fill="#7D4E4E"/>
<polygon points="246,540.78 249.2,542.63 249.2,546.32 246,548.17 242.8,546.32 242.8,542.63" fill="#7D4E4E"/>
<polygon points="249.71,549.45 252.91,551.3 252.91,555 249.71,556.85 246.51,555 246.51,551.3" fill="#7D4E4E"/>
<polygon points="253.51,558.13 256.71,559.98 256.71,563.67 253.51,565.52 250.3,563.67 250.3,559.98" fill="#7D4E4E"/>
<polygon points="257.39,566.8 260.59,568.65 260.59,572.35 257.39,574.2 254.19,572.35 254.19,568.65" fill="#7D4E4E"/>
<polygon points="261.36,575.48 264.56,577.33 264.56,581.02 261.36,582.87 258.15,581.02 258.15,577.33" fill="#7D4E4E"/>
<polygon points="265.41,584.15 268.61,586 268.61,589.7 265.41,591.55 262.21,589.7 262.21,586" fill="#7D4E4E"/>
<polygon points="269.56,592.83 272.76,594.68 272.76,598.37 269.56,600.22 266.35,598.37 266.35,594.68" fill="#7D4E4E"/>
<polygon points="273.79,601.5 276.99,603.35 276.99,607.05 273.79,608.9 270.59,607.05 270.59,603.35" fill="#7D4E4E"/>
<polygon points="278.12,610.18 281.32,612.03 281.32,615.72 278.12,617.57 274.91,615.72 274.91,612.03" fill="#7D4E4E"/>
<polygon points="282.53,618.85 285.74,620.7 285.74,624.4 282.53,626.25 279.33,624.4 279.33,620.7" fill="#7D4E4E"/>
<polygon points="287.04,627.53 290.24,629.38 290.24,633.07 287.04,634.92 283.84,633.07 283.84,629.38" fill="#7D4E4E"/>
<polygon points="291.64,636.2 294.85,638.05 294.85,641.75 291.64,643.6 288.44,641.75 288.44,638.05" fill="#7D4E4E"/>
<polygon points="296.34,644.88 299.54,646.73 299.54,650.42 296.34,652.27 293.14,650.42 293.14,646.73" fill="#7D4E4E"/>
<polygon points="301.13,653.55 304.33,655.4 304.33,659.1 301.13,660.95 297.93,659.1 297.93,655.4" fill="#7D4E4E"/>
<polygon points="306.02,662.23 309.22,664.08 309.22,667.77 306.02,669.62 302.81,667.77 302.81,664.08" fill="#7D4E4E"/>
<polygon points="311,670.9 314.2,672.75 314.2,676.45 311,678.3 307.8,676.45 307.8,672.75" fill="#7D4E4E"/>
<polygon points="316.08,679.58 319.28,681.43 319.28,685.12 316.08,686.97 312.88,685.12 312.88,681.43" fill="#7D4E4E"/>
<polygon points="321.26,688.25 324.46,690.1 324.46,693.8 321.26,695.65 318.06,693.8 318.06,690.1" fill="#7D4E4E"/>
<polygon points="326.54,696.93 329.74,698.78 329.74,702.47 326.54,704.32 323.34,702.47 323.34,698.78" fill="#7D4E4E"/>
<polygon points="331.92,705.6 335.12,707.45 335.12,711.15 331.92,713 328.72,711.15 328.72,707.45" fill="#7D4E4E"/>
<polygon points="337.4,714.28 340.6,716.13 340.6,719.82 337.4,721.67 334.2,719.82 334.2,716.13" fill="#7D4E4E"/>
<polygon points="342.98,722.95 346.18,724.8 346.18,728.5 342.98,730.35 339.78,728.5 339.78,724.8" fill="#7D4E4E"/>
<polygon points="348.67,731.63 351.87,733.48 351.87,737.17 348.67,739.02 345.46,737.17 345.46,733.48" fill="#7D4E4E"/>
<polygon points="354.45,740.3 357.66,742.15 357.66,745.85 354.45,747.7 351.25,745.85 351.25,742.15" fill="#7D4E4E"/>
<polygon points="360.35,748.98 363.55,750.83 363.55,754.52 360.35,756.37 357.15,754.52 357.15,750.83" fill="#7D4E4E"/>
<polygon points="366.35,757.65 369.55,759.5 369.55,763.2 366.35,765.05 363.14,763.2 363.14,759.5" fill="#7D4E4E"/>
<polygon points="372.45,766.33 375.65,768.18 375.65,771.87 372.45,773.72 369.25,771.87 369.25,768.18" fill="#7D4E4E"/>
<polygon points="378.66,775 381.87,776.85 381.87,780.55 378.66,782.4 375.46,780.55 375.46,776.85" fill="#7D4E4E"/>
<polygon points="384.98,783.68 388.19,785.53 388.19,789.22 384.98,791.07 381.78,789.22 381.78,785.53" fill="#7D4E4E"/>
<polygon points="391.41,792.35 394.62,794.2 394.62,797.9 391.41,799.75 388.21,797.9 388.21,794.2" fill="#7D4E4E"/>
<polygon points="397.95,801.03 401.16,802.88 401.16,806.57 397.95,808.42 394.75,806.57 394.75,802.88" fill="#7D4E4E"/>
<polygon points="404.6,809.7 407.81,811.55 407.81,815.25 404.6,817.1 401.4,815.25 401.4,811.55" fill="#7D4E4E"/>
<polygon points="411.37,818.38 414.57,820.23 414.57,823.92 411.37,825.77 408.16,823.92 408.16,820.23" fill="#7D4E4E"/>
<polygon points="418.24,827.05 421.44,828.9 421.44,832.6 418.24,834.45 415.04,832.6 415.04,828.9" fill="#7D4E4E"/>
<polygon points="425.23,835.73 428.43,837.58 428.43,841.27 425.23,843.12 422.03,841.27 422.03,837.58" fill="#7D4E4E"/>
<polygon points="432.33,844.4 435.53,846.25 435.53,849.95 432.33,851.8 429.13,849.95 429.13,846.25" fill="#7D4E4E"/>
<path d="M228.7,501.1 L231.99,509.78 L235.37,518.45 L238.84,527.12 L242.41,535.8 L246.08,544.48 L249.84,553.15 L253.69,561.83 L257.65,570.5 L261.7,579.18 L265.84,587.85 L270.09,596.53 L274.44,605.2 L278.88,613.88 L283.43,622.55 L288.08,631.23 L292.83,639.9 L297.68,648.58 L302.63,657.25 L307.69,665.93 L312.86,674.6 L318.12,683.28 L323.5,691.95 L328.97,700.62 L334.56,709.3 L340.25,717.98 L346.05,726.65 L351.96,735.33 L357.98,744 L364.11,752.68 L370.35,761.35 L376.7,770.03 L383.16,778.7 L389.74,787.38 L396.42,796.05 L403.22,804.73 L410.14,813.4 L417.17,822.08 L424.31,830.75 L431.57,839.43 L438.95,848.1" fill="none" stroke="#8E8E00" stroke-width="1.0"/>
<polygon points="228.7,497.06 229.86,499.5 232.54,499.85 230.58,501.71 231.08,504.37 228.7,503.08 226.32,504.37 226.82,501.71 224.86,499.85 227.54,499.5" fill="#8E8E00"/>
<polygon points="231.99,505.73 233.15,508.17 235.83,508.53 233.87,510.39 234.36,513.05 231.99,511.75 229.61,513.05 230.11,510.39 228.14,508.53 230.83,508.17" fill="#8E8E00"/>
<polygon points="235.37,514.41 236.53,516.85 239.21,517.2 237.25,519.06 237.75,521.72 235.37,520.43 232.99,521.72 233.49,519.06 231.53,517.2 234.21,516.85" fill="#8E8E00"/>
<polygon points="238.84,523.08 240.01,525.52 242.69,525.88 240.73,527.74 241.22,530.4 238.84,529.1 236.47,530.4 236.96,527.74 235,525.88 237.68,525.52" fill="#8E8E00"/>
<polygon points="242.41,531.76 243.58,534.2 246.26,534.55 244.29,536.41 244.79,539.07 242.41,537.78 240.04,539.07 240.53,536.41 238.57,534.55 241.25,534.2" fill="#8E8E00"/>
<polygon points="246.08,540.43 247.24,542.87 249.92,543.23 247.96,545.09 248.45,547.75 246.08,546.45 243.7,547.75 244.2,545.09 242.23,543.23 244.91,542.87" fill="#8E8E00"/>
<polygon points="249.84,549.11 251,551.55 253.68,551.9 251.72,553.76 252.21,556.42 249.84,555.13 247.46,556.42 247.96,553.76 245.99,551.9 248.67,551.55" fill="#8E8E00"/>
<polygon points="253.69,557.78 254.86,560.22 257.54,560.58 255.57,562.44 256.07,565.1 253.69,563.8 251.32,565.1 251.81,562.44 249.85,560.58 252.53,560.22" fill="#8E8E00"/>
<polygon points="257.65,566.46 258.81,568.9 261.49,569.25 259.53,571.11 260.02,573.77 257.65,572.48 255.27,573.77 255.76,571.11 253.8,569.25 256.48,568.9" fill="#8E8E00"/>
<polygon points="261.7,575.13 262.86,577.57 265.54,577.93 263.58,579.79 264.07,582.45 261.7,581.15 259.32,582.45 259.82,579.79 257.85,577.93 260.53,577.57" fill="#8E8E00"/>
<polygon points="265.84,583.81 267.01,586.25 269.69,586.6 267.73,588.46 268.22,591.12 265.84,589.83 263.47,591.12 263.96,588.46 262,586.6 264.68,586.25" fill="#8E8E00"/>
<polygon points="270.09,592.48 271.25,594.92 273.94,595.28 271.97,597.14 272.47,599.8 270.09,598.5 267.72,599.8 268.21,597.14 266.25,595.28 268.93,594.92" fill="#8E8E00"/>
<polygon points="274.44,601.16 275.6,603.6 278.28,603.95 276.32,605.81 276.81,608.47 274.44,607.18 272.06,608.47 272.56,605.81 270.59,603.95 273.27,603.6" fill="#8E8E00"/>
<polygon points="278.88,609.83 280.05,612.27 282.73,612.63 280.76,614.49 281.26,617.15 278.88,615.85 276.51,617.15 277,614.49 275.04,612.63 277.72,612.27" fill="#8E8E00"/>
<polygon points="283.43,618.51 284.59,620.95 287.27,621.3 285.31,623.16 285.81,625.82 283.43,624.53 281.05,625.82 281.55,623.16 279.59,621.3 282.27,620.95" fill="#8E8E00"/>
<polygon points="288.08,627.18 289.24,629.62 291.92,629.98 289.96,631.84 290.45,634.5 288.08,633.2 285.7,634.5 286.2,631.84 284.23,629.98 286.92,629.62" fill="#8E8E00"/>
<polygon points="292.83,635.86 293.99,638.3 296.67,638.65 294.71,640.51 295.2,643.17 292.83,641.88 290.45,643.17 290.95,640.51 288.98,638.65 291.66,638.3" fill="#8E8E00"/>
<polygon points="297.68,644.53 298.84,646.97 301.52,647.33 299.56,649.19 300.06,651.85 297.68,650.55 295.3,651.85 295.8,649.19 293.84,647.33 296.52,646.97" fill="#8E8E00"/>
<polygon points="302.63,653.21 303.8,655.65 306.48,656 304.52,657.86 305.01,660.52 302.63,659.23 300.26,660.52 300.75,657.86 298.79,656 301.47,655.65" fill="#8E8E00"/>
<polygon points="307.69,661.88 308.86,664.32 311.54,664.68 309.57,666.54 310.07,669.2 307.69,667.9 305.32,669.2 305.81,666.54 303.85,664.68 306.53,664.32" fill="#8E8E00"/>
<polygon points="312.86,670.56 314.02,673 316.7,673.35 314.74,675.21 315.23,677.87 312.86,676.58 310.48,677.87 310.97,675.21 309.01,673.35 311.69,673" fill="#8E8E00"/>
<polygon points="318.12,679.23 319.29,681.67 321.97,682.03 320,683.89 320.5,686.55 318.12,685.25 315.75,686.55 316.24,683.89 314.28,682.03 316.96,681.67" fill="#8E8E00"/>
<polygon points="323.5,687.91 324.66,690.35 327.34,690.7 325.38,692.56 325.87,695.22 323.5,693.93 321.12,695.22 321.61,692.56 319.65,690.7 322.33,690.35" fill="#8E8E00"/>
<polygon points="328.97,696.58 330.14,699.02 332.82,699.38 330.86,701.24 331.35,703.9 328.97,702.6 326.6,703.9 327.09,701.24 325.13,699.38 327.81,699.02" fill="#8E8E00"/>
<polygon points="334.56,705.26 335.72,707.7 338.4,708.05 336.44,709.91 336.94,712.57 334.56,711.28 332.18,712.57 332.68,709.91 330.72,708.05 333.4,707.7" fill="#8E8E00"/>
<polygon points="340.25,713.93 341.42,716.37 344.1,716.73 342.13,718.59 342.63,721.25 340.25,719.95 337.88,721.25 338.37,718.59 336.41,716.73 339.09,716.37" fill="#8E8E00"/>
<polygon points="346.05,722.61 347.22,725.05 349.9,725.4 347.94,727.26 348.43,729.92 346.05,728.63 343.68,729.92 344.17,727.26 342.21,725.4 344.89,725.05" fill="#8E8E00"/>
<polygon points="351.96,731.28 353.13,733.72 355.81,734.08 353.85,735.94 354.34,738.6 351.96,737.3 349.59,738.6 350.08,735.94 348.12,734.08 350.8,733.72" fill="#8E8E00"/>
<polygon points="357.98,739.96 359.15,742.4 361.83,742.75 359.86,744.61 360.36,747.27 357.98,745.98 355.61,747.27 356.1,744.61 354.14,742.75 356.82,742.4" fill="#8E8E00"/>
<polygon points="364.11,748.63 365.27,751.07 367.96,751.43 365.99,753.29 366.49,755.95 364.11,754.65 361.74,755.95 362.23,753.29 360.27,751.43 362.95,751.07" fill="#8E8E00"/>
<polygon points="370.35,757.31 371.51,759.75 374.19,760.1 372.23,761.96 372.73,764.62 370.35,763.33 367.97,764.62 368.47,761.96 366.51,760.1 369.19,759.75" fill="#8E8E00"/>
<polygon points="376.7,765.98 377.86,768.42 380.54,768.78 378.58,770.64 379.08,773.3 376.7,772 374.32,773.3 374.82,770.64 372.86,768.78 375.54,768.42" fill="#8E8E00"/>
<polygon points="383.16,774.66 384.32,777.1 387.01,777.45 385.04,779.31 385.54,781.97 383.16,780.68 380.79,781.97 381.28,779.31 379.32,777.45 382,777.1" fill="#8E8E00"/>
<polygon points="389.74,783.33 390.9,785.77 393.58,786.13 391.62,787.99 392.11,790.65 389.74,789.35 387.36,790.65 387.85,787.99 385.89,786.13 388.57,785.77" fill="#8E8E00"/>
<polygon points="396.42,792.01 397.58,794.45 400.27,794.8 398.3,796.66 398.8,799.32 396.42,798.03 394.05,799.32 394.54,796.66 392.58,794.8 395.26,794.45" fill="#8E8E00"/>
<polygon points="403.22,800.68 404.39,803.12 407.07,803.48 405.1,805.34 405.6,808 403.22,806.7 400.85,808 401.34,805.34 399.38,803.48 402.06,803.12" fill="#8E8E00"/>
<polygon points="410.14,809.36 411.3,811.8 413.98,812.15 412.02,814.01 412.51,816.67 410.14,815.38 407.76,816.67 408.26,814.01 406.29,812.15 408.97,811.8" fill="#8E8E00"/>
<polygon points="417.17,818.03 418.33,820.47 421.01,820.83 419.05,822.69 419.54,825.35 417.17,824.05 414.79,825.35 415.28,822.69 413.32,820.83 416,820.47" fill="#8E8E00"/>
<polygon points="424.31,826.71 425.47,829.15 428.15,829.5 426.19,831.36 426.69,834.02 424.31,832.73 421.93,834.02 422.43,831.36 420.47,829.5 423.15,829.15" fill="#8E8E00"/>
<polygon points="431.57,835.38 432.73,837.82 435.41,838.18 433.45,840.04 433.95,842.7 431.57,841.4 429.19,842.7 429.69,840.04 427.73,838.18 430.41,837.82" fill="#8E8E00"/>
<polygon points="438.95,844.06 440.11,846.5 442.79,846.85 440.83,848.71 441.32,851.37 438.95,850.08 436.57,851.37 437.07,848.71 435.1,846.85 437.78,846.5" fill="#8E8E00"/>
<path d="M228.7,501.1 L232.06,509.78 L235.52,518.45 L239.07,527.12 L242.73,535.8 L246.49,544.48 L250.34,553.15 L254.3,561.83 L258.37,570.5 L262.53,579.18 L266.8,587.85 L271.17,596.53 L275.64,605.2 L280.22,613.88 L284.91,622.55 L289.7,631.23 L294.59,639.9 L299.59,648.58 L304.7,657.25 L309.92,665.93 L315.25,674.6 L320.68,683.28 L326.22,691.95 L331.87,700.62 L337.64,709.3 L343.51,717.98 L349.49,726.65 L355.59,735.33 L361.79,744 L368.11,752.68 L374.54,761.35 L381.09,770.03 L387.75,778.7 L394.52,787.38 L401.41,796.05 L408.42,804.73 L415.54,813.4 L422.77,822.08 L430.13,830.75 L437.6,839.43 L445.19,848.1" fill="none" stroke="#FB6501" stroke-width="1.20"/>
<path d="M228.7,501.1 L232.18,509.78 L235.74,518.45 L239.38,527.12 L243.11,535.8 L246.93,544.48 L250.83,553.15 L254.82,561.83 L258.91,570.5 L263.1,579.18 L267.38,587.85 L271.76,596.53 L276.24,605.2 L280.83,613.88 L285.53,622.55 L290.33,631.23 L295.24,639.9 L300.27,648.58 L305.42,657.25 L310.68,665.93 L316.06,674.6 L321.56,683.28 L327.19,691.95 L332.95,700.62 L338.83,709.3 L344.85,717.98 L350.99,726.65 L357.28,735.33 L363.7,744 L370.26,752.68 L376.96,761.35 L383.81,770.03 L390.8,778.7 L397.95,787.38 L405.24,796.05 L412.69,804.73 L420.29,813.4 L428.05,822.08 L435.97,830.75 L444.05,839.43 L452.3,848.1" fill="none" stroke="#6699CC" stroke-width="1.0" stroke-dasharray="5.17 6.65" stroke-dashoffset="-1.1"/>
</g>
<rect x="228.2" y="501.1" width="264.7" height="347.0" fill="none" stroke="#000" stroke-width="1.15"/>
<line x1="266.01" y1="501.1" x2="266.01" y2="506.2" stroke="#000" stroke-width="1.15"/>
<line x1="303.83" y1="501.1" x2="303.83" y2="506.2" stroke="#000" stroke-width="1.15"/>
<line x1="341.64" y1="501.1" x2="341.64" y2="506.2" stroke="#000" stroke-width="1.15"/>
<line x1="379.46" y1="501.1" x2="379.46" y2="506.2" stroke="#000" stroke-width="1.15"/>
<line x1="417.27" y1="501.1" x2="417.27" y2="506.2" stroke="#000" stroke-width="1.15"/>
<line x1="455.09" y1="501.1" x2="455.09" y2="506.2" stroke="#000" stroke-width="1.15"/>
<line x1="228.2" y1="570.5" x2="233.3" y2="570.5" stroke="#000" stroke-width="1.15"/>
<line x1="228.2" y1="639.9" x2="233.3" y2="639.9" stroke="#000" stroke-width="1.15"/>
<line x1="228.2" y1="709.3" x2="233.3" y2="709.3" stroke="#000" stroke-width="1.15"/>
<line x1="228.2" y1="778.7" x2="233.3" y2="778.7" stroke="#000" stroke-width="1.15"/>
<text x="48.4" y="40.6" font-size="17.8" text-anchor="middle">40</text>
<text x="118.75" y="40.6" font-size="17.8" text-anchor="middle">60</text>
<text x="189.1" y="40.6" font-size="17.8" text-anchor="middle">80</text>
<text x="259.45" y="40.6" font-size="17.8" text-anchor="middle">100</text>
<text x="329.8" y="40.6" font-size="17.8" text-anchor="middle">120</text>
<text x="398.5" y="36.5" font-size="17.8" text-anchor="middle">-20</text>
<text x="454.92" y="36.5" font-size="17.8" text-anchor="middle">-16</text>
<text x="511.34" y="36.5" font-size="17.8" text-anchor="middle">-12</text>
<text x="567.76" y="36.5" font-size="17.8" text-anchor="middle">-8</text>
<text x="624.18" y="36.5" font-size="17.8" text-anchor="middle">-4</text>
<text x="680.6" y="36.5" font-size="17.8" text-anchor="middle">0</text>
<text x="228.2" y="491.5" font-size="16.7" text-anchor="middle">0</text>
<text x="266.01" y="491.5" font-size="16.7" text-anchor="middle">20</text>
<text x="303.83" y="491.5" font-size="16.7" text-anchor="middle">40</text>
<text x="341.64" y="491.5" font-size="16.7" text-anchor="middle">60</text>
<text x="379.46" y="491.5" font-size="16.7" text-anchor="middle">80</text>
<text x="417.27" y="491.5" font-size="16.7" text-anchor="middle">100</text>
<text x="455.09" y="491.5" font-size="16.7" text-anchor="middle">120</text>
<text x="492.9" y="491.5" font-size="16.7" text-anchor="middle">140</text>
<text x="45.3" y="52.9" font-size="17.8" text-anchor="end">0.0</text>
<text x="392.6" y="53.2" font-size="17.8" text-anchor="end">0.0</text>
<text x="223.5" y="505.9" font-size="16.7" text-anchor="end">0.0</text>
<text x="45.3" y="126.75" font-size="17.8" text-anchor="end">0.2</text>
<text x="392.6" y="127.18" font-size="17.8" text-anchor="end">0.2</text>
<text x="223.5" y="575.3" font-size="16.7" text-anchor="end">0.2</text>
<text x="45.3" y="200.6" font-size="17.8" text-anchor="end">0.4</text>
<text x="392.6" y="201.16" font-size="17.8" text-anchor="end">0.4</text>
<text x="223.5" y="644.7" font-size="16.7" text-anchor="end">0.4</text>
<text x="45.3" y="274.45" font-size="17.8" text-anchor="end">0.6</text>
<text x="392.6" y="275.14" font-size="17.8" text-anchor="end">0.6</text>
<text x="223.5" y="714.1" font-size="16.7" text-anchor="end">0.6</text>
<text x="45.3" y="348.3" font-size="17.8" text-anchor="end">0.8</text>
<text x="392.6" y="349.12" font-size="17.8" text-anchor="end">0.8</text>
<text x="223.5" y="783.5" font-size="16.7" text-anchor="end">0.8</text>
<text x="45.3" y="422.15" font-size="17.8" text-anchor="end">1.0</text>
<text x="392.6" y="423.1" font-size="17.8" text-anchor="end">1.0</text>
<text x="223.5" y="852.9" font-size="16.7" text-anchor="end">1.0</text>
<text x="189" y="13.9" font-size="17.8" text-anchor="middle">Effective vertical stress / kPa</text>
<text x="539.4" y="12.9" font-size="17.8" text-anchor="middle">Negative skin friction of pile /kPa</text>
<text x="360" y="466.9" font-size="16.9" text-anchor="middle">Dragload /kPa</text>
<text transform="translate(13.5,234.4) rotate(-90)" font-size="18.05" text-anchor="middle">Normalized depth <tspan font-style="italic">z</tspan>/<tspan font-style="italic">H</tspan></text>
<text transform="translate(364.6,227.8) rotate(-90)" font-size="18.0" text-anchor="middle">Normalized depth <tspan font-style="italic">z</tspan>/<tspan font-style="italic">H</tspan></text>
<text transform="translate(193.7,674.9) rotate(-90)" font-size="17.1" text-anchor="middle">Normalized depth <tspan font-style="italic">z</tspan>/<tspan font-style="italic">H</tspan></text>
<text x="21" y="443.2" font-size="20.8">(a) Effective vertical stress</text>
<text x="471.5" y="443.2" font-size="20.8">(b) Negative skin friction</text>
<text x="292" y="873.9" font-size="20.8">(c) Dragload</text>
<line x1="216.4" y1="80.5" x2="257" y2="80.5" stroke="#515151" stroke-width="1.0"/>
<rect x="233.75" y="77.55" width="5.9" height="5.9" fill="#515151"/>
<text x="262.9" y="87.3" font-size="17.8" letter-spacing="0.12"><tspan font-style="italic">χ</tspan>=−1.0</text>
<line x1="216.4" y1="104.5" x2="257" y2="104.5" stroke="#F14040" stroke-width="1.0"/>
<circle cx="236.7" cy="104.5" r="2.95" fill="#F14040"/>
<text x="262.9" y="111.3" font-size="17.8" letter-spacing="0.12"><tspan font-style="italic">χ</tspan>=−0.9</text>
<line x1="216.4" y1="128.5" x2="257" y2="128.5" stroke="#1A6FDF" stroke-width="1.0"/>
<polygon points="236.7,123.37 241.1,131.07 232.3,131.07" fill="#1A6FDF"/>
<text x="262.9" y="135.3" font-size="17.8" letter-spacing="0.12"><tspan font-style="italic">χ</tspan>=−0.8</text>
<line x1="216.4" y1="153.5" x2="257" y2="153.5" stroke="#37AD6B" stroke-width="1.0"/>
<polygon points="236.7,158.63 241.1,150.93 232.3,150.93" fill="#37AD6B"/>
<text x="262.9" y="160.3" font-size="17.8" letter-spacing="0.12"><tspan font-style="italic">χ</tspan>=−0.7</text>
<line x1="216.4" y1="177.5" x2="257" y2="177.5" stroke="#B177DE" stroke-width="1.0"/>
<polygon points="236.7,172.7 241.5,177.5 236.7,182.3 231.9,177.5" fill="#B177DE"/>
<text x="262.9" y="184.3" font-size="17.8" letter-spacing="0.12"><tspan font-style="italic">χ</tspan>=−0.6</text>
<line x1="216.4" y1="202.5" x2="257" y2="202.5" stroke="#CC9900" stroke-width="1.0"/>
<polygon points="231.57,202.5 239.27,198.1 239.27,206.9" fill="#CC9900"/>
<text x="262.9" y="209.3" font-size="17.8" letter-spacing="0.12"><tspan font-style="italic">χ</tspan>=−0.5</text>
<line x1="216.4" y1="226.5" x2="257" y2="226.5" stroke="#00CBCC" stroke-width="1.0"/>
<polygon points="241.83,226.5 234.13,222.1 234.13,230.9" fill="#00CBCC"/>
<text x="262.9" y="233.3" font-size="17.8" letter-spacing="0.12"><tspan font-style="italic">χ</tspan>=−0.4</text>
<line x1="216.4" y1="250.5" x2="257" y2="250.5" stroke="#7D4E4E" stroke-width="1.0"/>
<polygon points="236.7,246.3 240.34,248.4 240.34,252.6 236.7,254.7 233.06,252.6 233.06,248.4" fill="#7D4E4E"/>
<text x="262.9" y="257.3" font-size="17.8" letter-spacing="0.12"><tspan font-style="italic">χ</tspan>=−0.3</text>
<line x1="216.4" y1="275.5" x2="257" y2="275.5" stroke="#8E8E00" stroke-width="1.0"/>
<polygon points="236.7,271.2 237.82,273.96 240.79,274.17 238.51,276.09 239.23,278.98 236.7,277.4 234.17,278.98 234.89,276.09 232.61,274.17 235.58,273.96" fill="#8E8E00"/>
<text x="262.9" y="282.3" font-size="17.8" letter-spacing="0.12"><tspan font-style="italic">χ</tspan>=−0.2</text>
<line x1="216.4" y1="299.5" x2="257" y2="299.5" stroke="#FB6501" stroke-width="1.0"/>
<text x="262.9" y="306.3" font-size="17.8" letter-spacing="0.12"><tspan font-style="italic">χ</tspan>=−0.1</text>
<line x1="216.4" y1="324.5" x2="257" y2="324.5" stroke="#6699CC" stroke-width="1.0" stroke-dasharray="6 6.5"/>
<text x="262.9" y="331.3" font-size="17.8" letter-spacing="0.12"><tspan font-style="italic">χ</tspan>=0</text>
<line x1="573.7" y1="140.5" x2="613.8" y2="140.5" stroke="#515151" stroke-width="1.0"/>
<rect x="590.8" y="137.55" width="5.9" height="5.9" fill="#515151"/>
<text x="619.1" y="147.3" font-size="17.8" letter-spacing="0.22"><tspan font-style="italic">χ</tspan>=−1.0</text>
<line x1="573.7" y1="165.5" x2="613.8" y2="165.5" stroke="#F14040" stroke-width="1.0"/>
<circle cx="593.75" cy="165.5" r="2.95" fill="#F14040"/>
<text x="619.1" y="172.3" font-size="17.8" letter-spacing="0.22"><tspan font-style="italic">χ</tspan>=−0.9</text>
<line x1="573.7" y1="189.5" x2="613.8" y2="189.5" stroke="#1A6FDF" stroke-width="1.0"/>
<polygon points="593.75,184.37 598.15,192.07 589.35,192.07" fill="#1A6FDF"/>
<text x="619.1" y="196.3" font-size="17.8" letter-spacing="0.22"><tspan font-style="italic">χ</tspan>=−0.8</text>
<line x1="573.7" y1="213.5" x2="613.8" y2="213.5" stroke="#37AD6B" stroke-width="1.0"/>
<polygon points="593.75,218.63 598.15,210.93 589.35,210.93" fill="#37AD6B"/>
<text x="619.1" y="220.3" font-size="17.8" letter-spacing="0.22"><tspan font-style="italic">χ</tspan>=−0.7</text>
<line x1="573.7" y1="238.5" x2="613.8" y2="238.5" stroke="#B177DE" stroke-width="1.0"/>
<polygon points="593.75,233.7 598.55,238.5 593.75,243.3 588.95,238.5" fill="#B177DE"/>
<text x="619.1" y="245.3" font-size="17.8" letter-spacing="0.22"><tspan font-style="italic">χ</tspan>=−0.6</text>
<line x1="573.7" y1="262.5" x2="613.8" y2="262.5" stroke="#CC9900" stroke-width="1.0"/>
<polygon points="588.62,262.5 596.32,258.1 596.32,266.9" fill="#CC9900"/>
<text x="619.1" y="269.3" font-size="17.8" letter-spacing="0.22"><tspan font-style="italic">χ</tspan>=−0.5</text>
<line x1="573.7" y1="287.5" x2="613.8" y2="287.5" stroke="#00CBCC" stroke-width="1.0"/>
<polygon points="598.88,287.5 591.18,283.1 591.18,291.9" fill="#00CBCC"/>
<text x="619.1" y="294.3" font-size="17.8" letter-spacing="0.22"><tspan font-style="italic">χ</tspan>=−0.4</text>
<line x1="573.7" y1="311.5" x2="613.8" y2="311.5" stroke="#7D4E4E" stroke-width="1.0"/>
<polygon points="593.75,307.3 597.39,309.4 597.39,313.6 593.75,315.7 590.11,313.6 590.11,309.4" fill="#7D4E4E"/>
<text x="619.1" y="318.3" font-size="17.8" letter-spacing="0.22"><tspan font-style="italic">χ</tspan>=−0.3</text>
<line x1="573.7" y1="336.5" x2="613.8" y2="336.5" stroke="#8E8E00" stroke-width="1.0"/>
<polygon points="593.75,332.2 594.87,334.96 597.84,335.17 595.56,337.09 596.28,339.98 593.75,338.4 591.22,339.98 591.94,337.09 589.66,335.17 592.63,334.96" fill="#8E8E00"/>
<text x="619.1" y="343.3" font-size="17.8" letter-spacing="0.22"><tspan font-style="italic">χ</tspan>=−0.2</text>
<line x1="573.7" y1="360.5" x2="613.8" y2="360.5" stroke="#FB6501" stroke-width="1.0"/>
<text x="619.1" y="367.3" font-size="17.8" letter-spacing="0.22"><tspan font-style="italic">χ</tspan>=−0.1</text>
<line x1="573.7" y1="385.5" x2="613.8" y2="385.5" stroke="#6699CC" stroke-width="1.0" stroke-dasharray="6 6.5"/>
<text x="619.1" y="392.3" font-size="17.8" letter-spacing="0.22"><tspan font-style="italic">χ</tspan>=0</text>
<line x1="392.3" y1="527.5" x2="430" y2="527.5" stroke="#515151" stroke-width="1.0"/>
<rect x="408.61" y="524.96" width="5.07" height="5.07" fill="#515151"/>
<text x="435.7" y="533.1" font-size="16.7" letter-spacing="0.12"><tspan font-style="italic">χ</tspan>=−1.0</text>
<line x1="392.3" y1="550.5" x2="430" y2="550.5" stroke="#F14040" stroke-width="1.0"/>
<circle cx="411.15" cy="550.5" r="2.54" fill="#F14040"/>
<text x="435.7" y="556.1" font-size="16.7" letter-spacing="0.12"><tspan font-style="italic">χ</tspan>=−0.9</text>
<line x1="392.3" y1="573.5" x2="430" y2="573.5" stroke="#1A6FDF" stroke-width="1.0"/>
<polygon points="411.15,569.09 414.93,575.71 407.37,575.71" fill="#1A6FDF"/>
<text x="435.7" y="579.1" font-size="16.7" letter-spacing="0.12"><tspan font-style="italic">χ</tspan>=−0.8</text>
<line x1="392.3" y1="596.5" x2="430" y2="596.5" stroke="#37AD6B" stroke-width="1.0"/>
<polygon points="411.15,600.91 414.93,594.29 407.37,594.29" fill="#37AD6B"/>
<text x="435.7" y="602.1" font-size="16.7" letter-spacing="0.12"><tspan font-style="italic">χ</tspan>=−0.7</text>
<line x1="392.3" y1="619.5" x2="430" y2="619.5" stroke="#B177DE" stroke-width="1.0"/>
<polygon points="411.15,615.37 415.28,619.5 411.15,623.63 407.02,619.5" fill="#B177DE"/>
<text x="435.7" y="625.1" font-size="16.7" letter-spacing="0.12"><tspan font-style="italic">χ</tspan>=−0.6</text>
<line x1="392.3" y1="642.5" x2="430" y2="642.5" stroke="#CC9900" stroke-width="1.0"/>
<polygon points="406.74,642.5 413.36,638.72 413.36,646.28" fill="#CC9900"/>
<text x="435.7" y="648.1" font-size="16.7" letter-spacing="0.12"><tspan font-style="italic">χ</tspan>=−0.5</text>
<line x1="392.3" y1="665.5" x2="430" y2="665.5" stroke="#00CBCC" stroke-width="1.0"/>
<polygon points="415.56,665.5 408.94,661.72 408.94,669.28" fill="#00CBCC"/>
<text x="435.7" y="671.1" font-size="16.7" letter-spacing="0.12"><tspan font-style="italic">χ</tspan>=−0.4</text>
<line x1="392.3" y1="688.5" x2="430" y2="688.5" stroke="#7D4E4E" stroke-width="1.0"/>
<polygon points="411.15,684.89 414.28,686.69 414.28,690.31 411.15,692.11 408.02,690.31 408.02,686.69" fill="#7D4E4E"/>
<text x="435.7" y="694.1" font-size="16.7" letter-spacing="0.12"><tspan font-style="italic">χ</tspan>=−0.3</text>
<line x1="392.3" y1="710.5" x2="430" y2="710.5" stroke="#8E8E00" stroke-width="1.0"/>
<polygon points="411.15,706.8 412.11,709.18 414.67,709.36 412.7,711 413.32,713.49 411.15,712.13 408.98,713.49 409.6,711 407.63,709.36 410.19,709.18" fill="#8E8E00"/>
<text x="435.7" y="716.1" font-size="16.7" letter-spacing="0.12"><tspan font-style="italic">χ</tspan>=−0.2</text>
<line x1="392.3" y1="733.5" x2="430" y2="733.5" stroke="#FB6501" stroke-width="1.0"/>
<text x="435.7" y="739.1" font-size="16.7" letter-spacing="0.12"><tspan font-style="italic">χ</tspan>=−0.1</text>
<line x1="392.3" y1="756.5" x2="430" y2="756.5" stroke="#6699CC" stroke-width="1.0" stroke-dasharray="5.64 6.11"/>
<text x="435.7" y="762.1" font-size="16.7" letter-spacing="0.12"><tspan font-style="italic">χ</tspan>=0</text>
</svg>
</body></html>
